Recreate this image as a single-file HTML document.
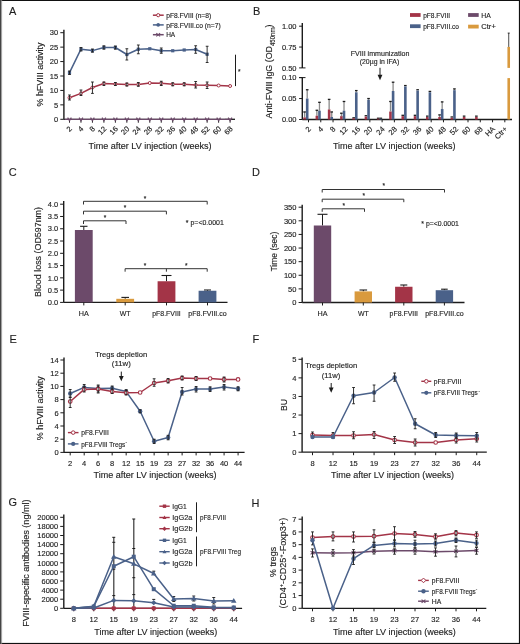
<!DOCTYPE html>
<html><head><meta charset="utf-8"><style>
html,body{margin:0;padding:0;background:#fff;}
svg{display:block;font-family:"Liberation Sans", sans-serif;will-change:transform;}
text{stroke:#1e1e1e;stroke-width:0.14px;}
</style></head><body>
<svg width="520" height="644" viewBox="0 0 520 644">
<rect x="0" y="0" width="520" height="644" fill="#ffffff"/>
<text transform="translate(9 15.45) scale(0.93 1)" font-size="11.8" fill="#1e1e1e" stroke-width="0">A</text>
<line x1="63.9" y1="29.8" x2="63.9" y2="119.3" stroke="#1c1c1c" stroke-width="1.4" />
<line x1="60.3" y1="119.3" x2="63.9" y2="119.3" stroke="#1c1c1c" stroke-width="1" />
<text x="58.2" y="122" font-size="7.5" text-anchor="end" fill="#1e1e1e" >0</text>
<line x1="60.3" y1="104.87" x2="63.9" y2="104.87" stroke="#1c1c1c" stroke-width="1" />
<text x="58.2" y="107.57" font-size="7.5" text-anchor="end" fill="#1e1e1e" >5</text>
<line x1="60.3" y1="90.43" x2="63.9" y2="90.43" stroke="#1c1c1c" stroke-width="1" />
<text x="58.2" y="93.13" font-size="7.5" text-anchor="end" fill="#1e1e1e" >10</text>
<line x1="60.3" y1="76" x2="63.9" y2="76" stroke="#1c1c1c" stroke-width="1" />
<text x="58.2" y="78.7" font-size="7.5" text-anchor="end" fill="#1e1e1e" >15</text>
<line x1="60.3" y1="61.57" x2="63.9" y2="61.57" stroke="#1c1c1c" stroke-width="1" />
<text x="58.2" y="64.27" font-size="7.5" text-anchor="end" fill="#1e1e1e" >20</text>
<line x1="60.3" y1="47.13" x2="63.9" y2="47.13" stroke="#1c1c1c" stroke-width="1" />
<text x="58.2" y="49.83" font-size="7.5" text-anchor="end" fill="#1e1e1e" >25</text>
<line x1="60.3" y1="32.7" x2="63.9" y2="32.7" stroke="#1c1c1c" stroke-width="1" />
<text x="58.2" y="35.4" font-size="7.5" text-anchor="end" fill="#1e1e1e" >30</text>
<line x1="225" y1="119.3" x2="235" y2="119.3" stroke="#1c1c1c" stroke-width="1.3" />
<text x="72.5" y="129.3" font-size="7.5" text-anchor="end" fill="#1e1e1e" transform="rotate(-45 72.5 129.3)" >2</text>
<text x="83.97" y="129.3" font-size="7.5" text-anchor="end" fill="#1e1e1e" transform="rotate(-45 83.97 129.3)" >4</text>
<text x="95.44" y="129.3" font-size="7.5" text-anchor="end" fill="#1e1e1e" transform="rotate(-45 95.44 129.3)" >8</text>
<text x="106.91" y="129.3" font-size="7.5" text-anchor="end" fill="#1e1e1e" transform="rotate(-45 106.91 129.3)" >12</text>
<text x="118.38" y="129.3" font-size="7.5" text-anchor="end" fill="#1e1e1e" transform="rotate(-45 118.38 129.3)" >16</text>
<text x="129.85" y="129.3" font-size="7.5" text-anchor="end" fill="#1e1e1e" transform="rotate(-45 129.85 129.3)" >20</text>
<text x="141.32" y="129.3" font-size="7.5" text-anchor="end" fill="#1e1e1e" transform="rotate(-45 141.32 129.3)" >24</text>
<text x="152.79" y="129.3" font-size="7.5" text-anchor="end" fill="#1e1e1e" transform="rotate(-45 152.79 129.3)" >28</text>
<text x="164.26" y="129.3" font-size="7.5" text-anchor="end" fill="#1e1e1e" transform="rotate(-45 164.26 129.3)" >32</text>
<text x="175.73" y="129.3" font-size="7.5" text-anchor="end" fill="#1e1e1e" transform="rotate(-45 175.73 129.3)" >36</text>
<text x="187.2" y="129.3" font-size="7.5" text-anchor="end" fill="#1e1e1e" transform="rotate(-45 187.2 129.3)" >40</text>
<text x="198.67" y="129.3" font-size="7.5" text-anchor="end" fill="#1e1e1e" transform="rotate(-45 198.67 129.3)" >48</text>
<text x="210.14" y="129.3" font-size="7.5" text-anchor="end" fill="#1e1e1e" transform="rotate(-45 210.14 129.3)" >52</text>
<text x="221.61" y="129.3" font-size="7.5" text-anchor="end" fill="#1e1e1e" transform="rotate(-45 221.61 129.3)" >60</text>
<text x="233.08" y="129.3" font-size="7.5" text-anchor="end" fill="#1e1e1e" transform="rotate(-45 233.08 129.3)" >68</text>
<text x="150" y="148.8" font-size="9.5" text-anchor="middle" fill="#1e1e1e" textLength="123" lengthAdjust="spacingAndGlyphs" >Time after LV injection (weeks)</text>
<text x="42.9" y="74.5" font-size="9.5" text-anchor="middle" fill="#1e1e1e" textLength="64" lengthAdjust="spacingAndGlyphs" transform="rotate(-90 42.9 74.5)" >% hFVIII activity</text>
<polyline points="69.5,72.7 80.97,49.2 92.44,50.6 103.91,47.5 115.38,47.5 126.85,54.5 138.32,49.25 149.79,48.75 161.26,50.75 172.73,50.75 184.2,50 195.67,49.5 207.14,54.25" stroke="#4a6189" stroke-width="1.5" fill="none" stroke-linejoin="round" />
<rect x="67.9" y="71.1" width="3.2" height="3.2" fill="#4a6189" stroke="none" stroke-width="0"/>
<rect x="79.37" y="47.6" width="3.2" height="3.2" fill="#4a6189" stroke="none" stroke-width="0"/>
<rect x="90.84" y="49" width="3.2" height="3.2" fill="#4a6189" stroke="none" stroke-width="0"/>
<rect x="102.31" y="45.9" width="3.2" height="3.2" fill="#4a6189" stroke="none" stroke-width="0"/>
<rect x="113.78" y="45.9" width="3.2" height="3.2" fill="#4a6189" stroke="none" stroke-width="0"/>
<rect x="125.25" y="52.9" width="3.2" height="3.2" fill="#4a6189" stroke="none" stroke-width="0"/>
<rect x="136.72" y="47.65" width="3.2" height="3.2" fill="#4a6189" stroke="none" stroke-width="0"/>
<rect x="148.19" y="47.15" width="3.2" height="3.2" fill="#4a6189" stroke="none" stroke-width="0"/>
<rect x="159.66" y="49.15" width="3.2" height="3.2" fill="#4a6189" stroke="none" stroke-width="0"/>
<rect x="171.13" y="49.15" width="3.2" height="3.2" fill="#4a6189" stroke="none" stroke-width="0"/>
<rect x="182.6" y="48.4" width="3.2" height="3.2" fill="#4a6189" stroke="none" stroke-width="0"/>
<rect x="194.07" y="47.9" width="3.2" height="3.2" fill="#4a6189" stroke="none" stroke-width="0"/>
<rect x="205.54" y="52.65" width="3.2" height="3.2" fill="#4a6189" stroke="none" stroke-width="0"/>
<line x1="126.85" y1="48.75" x2="126.85" y2="60" stroke="#1c1c1c" stroke-width="0.9" />
<line x1="125.45" y1="48.75" x2="128.25" y2="48.75" stroke="#1c1c1c" stroke-width="0.9" />
<line x1="125.45" y1="60" x2="128.25" y2="60" stroke="#1c1c1c" stroke-width="0.9" />
<line x1="138.32" y1="45" x2="138.32" y2="53.75" stroke="#1c1c1c" stroke-width="0.9" />
<line x1="136.92" y1="45" x2="139.72" y2="45" stroke="#1c1c1c" stroke-width="0.9" />
<line x1="136.92" y1="53.75" x2="139.72" y2="53.75" stroke="#1c1c1c" stroke-width="0.9" />
<line x1="161.26" y1="48" x2="161.26" y2="53.25" stroke="#1c1c1c" stroke-width="0.9" />
<line x1="159.86" y1="48" x2="162.66" y2="48" stroke="#1c1c1c" stroke-width="0.9" />
<line x1="159.86" y1="53.25" x2="162.66" y2="53.25" stroke="#1c1c1c" stroke-width="0.9" />
<line x1="195.67" y1="45.75" x2="195.67" y2="53.25" stroke="#1c1c1c" stroke-width="0.9" />
<line x1="194.27" y1="45.75" x2="197.07" y2="45.75" stroke="#1c1c1c" stroke-width="0.9" />
<line x1="194.27" y1="53.25" x2="197.07" y2="53.25" stroke="#1c1c1c" stroke-width="0.9" />
<line x1="207.14" y1="46.25" x2="207.14" y2="62.5" stroke="#1c1c1c" stroke-width="0.9" />
<line x1="205.74" y1="46.25" x2="208.54" y2="46.25" stroke="#1c1c1c" stroke-width="0.9" />
<line x1="205.74" y1="62.5" x2="208.54" y2="62.5" stroke="#1c1c1c" stroke-width="0.9" />
<line x1="69.5" y1="71" x2="69.5" y2="74.5" stroke="#1c1c1c" stroke-width="0.9" />
<line x1="68.1" y1="71" x2="70.9" y2="71" stroke="#1c1c1c" stroke-width="0.9" />
<line x1="68.1" y1="74.5" x2="70.9" y2="74.5" stroke="#1c1c1c" stroke-width="0.9" />
<line x1="80.97" y1="47.5" x2="80.97" y2="51" stroke="#1c1c1c" stroke-width="0.9" />
<line x1="79.57" y1="47.5" x2="82.37" y2="47.5" stroke="#1c1c1c" stroke-width="0.9" />
<line x1="79.57" y1="51" x2="82.37" y2="51" stroke="#1c1c1c" stroke-width="0.9" />
<line x1="92.44" y1="49" x2="92.44" y2="52.2" stroke="#1c1c1c" stroke-width="0.9" />
<line x1="91.04" y1="49" x2="93.84" y2="49" stroke="#1c1c1c" stroke-width="0.9" />
<line x1="91.04" y1="52.2" x2="93.84" y2="52.2" stroke="#1c1c1c" stroke-width="0.9" />
<line x1="103.91" y1="45.8" x2="103.91" y2="49.2" stroke="#1c1c1c" stroke-width="0.9" />
<line x1="102.51" y1="45.8" x2="105.31" y2="45.8" stroke="#1c1c1c" stroke-width="0.9" />
<line x1="102.51" y1="49.2" x2="105.31" y2="49.2" stroke="#1c1c1c" stroke-width="0.9" />
<line x1="115.38" y1="46" x2="115.38" y2="49.2" stroke="#1c1c1c" stroke-width="0.9" />
<line x1="113.98" y1="46" x2="116.78" y2="46" stroke="#1c1c1c" stroke-width="0.9" />
<line x1="113.98" y1="49.2" x2="116.78" y2="49.2" stroke="#1c1c1c" stroke-width="0.9" />
<polyline points="69.5,97.7 80.97,93.4 92.44,87.5 103.91,83.5 115.38,84 126.85,84.5 138.32,84.5 149.79,83 161.26,83.25 172.73,84.25 184.2,84.25 195.67,85 207.14,85.25 218.61,85.5 230.08,86" stroke="#a33447" stroke-width="1.5" fill="none" stroke-linejoin="round" />
<circle cx="69.5" cy="97.7" r="1.5" fill="#fff" stroke="#a33447" stroke-width="1"/>
<circle cx="80.97" cy="93.4" r="1.5" fill="#fff" stroke="#a33447" stroke-width="1"/>
<circle cx="92.44" cy="87.5" r="1.5" fill="#fff" stroke="#a33447" stroke-width="1"/>
<circle cx="103.91" cy="83.5" r="1.5" fill="#fff" stroke="#a33447" stroke-width="1"/>
<circle cx="115.38" cy="84" r="1.5" fill="#fff" stroke="#a33447" stroke-width="1"/>
<circle cx="126.85" cy="84.5" r="1.5" fill="#fff" stroke="#a33447" stroke-width="1"/>
<circle cx="138.32" cy="84.5" r="1.5" fill="#fff" stroke="#a33447" stroke-width="1"/>
<circle cx="149.79" cy="83" r="1.5" fill="#fff" stroke="#a33447" stroke-width="1"/>
<circle cx="161.26" cy="83.25" r="1.5" fill="#fff" stroke="#a33447" stroke-width="1"/>
<circle cx="172.73" cy="84.25" r="1.5" fill="#fff" stroke="#a33447" stroke-width="1"/>
<circle cx="184.2" cy="84.25" r="1.5" fill="#fff" stroke="#a33447" stroke-width="1"/>
<circle cx="195.67" cy="85" r="1.5" fill="#fff" stroke="#a33447" stroke-width="1"/>
<circle cx="207.14" cy="85.25" r="1.5" fill="#fff" stroke="#a33447" stroke-width="1"/>
<circle cx="218.61" cy="85.5" r="1.5" fill="#fff" stroke="#a33447" stroke-width="1"/>
<circle cx="230.08" cy="86" r="1.5" fill="#fff" stroke="#a33447" stroke-width="1"/>
<line x1="69.5" y1="95" x2="69.5" y2="100" stroke="#1c1c1c" stroke-width="0.9" />
<line x1="68.1" y1="95" x2="70.9" y2="95" stroke="#1c1c1c" stroke-width="0.9" />
<line x1="68.1" y1="100" x2="70.9" y2="100" stroke="#1c1c1c" stroke-width="0.9" />
<line x1="80.97" y1="90" x2="80.97" y2="95.5" stroke="#1c1c1c" stroke-width="0.9" />
<line x1="79.57" y1="90" x2="82.37" y2="90" stroke="#1c1c1c" stroke-width="0.9" />
<line x1="79.57" y1="95.5" x2="82.37" y2="95.5" stroke="#1c1c1c" stroke-width="0.9" />
<line x1="92.44" y1="82" x2="92.44" y2="93.4" stroke="#1c1c1c" stroke-width="0.9" />
<line x1="91.04" y1="82" x2="93.84" y2="82" stroke="#1c1c1c" stroke-width="0.9" />
<line x1="91.04" y1="93.4" x2="93.84" y2="93.4" stroke="#1c1c1c" stroke-width="0.9" />
<line x1="103.91" y1="82" x2="103.91" y2="85.5" stroke="#1c1c1c" stroke-width="0.9" />
<line x1="102.51" y1="82" x2="105.31" y2="82" stroke="#1c1c1c" stroke-width="0.9" />
<line x1="102.51" y1="85.5" x2="105.31" y2="85.5" stroke="#1c1c1c" stroke-width="0.9" />
<line x1="138.32" y1="82.5" x2="138.32" y2="86.25" stroke="#1c1c1c" stroke-width="0.9" />
<line x1="136.92" y1="82.5" x2="139.72" y2="82.5" stroke="#1c1c1c" stroke-width="0.9" />
<line x1="136.92" y1="86.25" x2="139.72" y2="86.25" stroke="#1c1c1c" stroke-width="0.9" />
<line x1="161.26" y1="81.25" x2="161.26" y2="85.5" stroke="#1c1c1c" stroke-width="0.9" />
<line x1="159.86" y1="81.25" x2="162.66" y2="81.25" stroke="#1c1c1c" stroke-width="0.9" />
<line x1="159.86" y1="85.5" x2="162.66" y2="85.5" stroke="#1c1c1c" stroke-width="0.9" />
<line x1="195.67" y1="81.5" x2="195.67" y2="88" stroke="#1c1c1c" stroke-width="0.9" />
<line x1="194.27" y1="81.5" x2="197.07" y2="81.5" stroke="#1c1c1c" stroke-width="0.9" />
<line x1="194.27" y1="88" x2="197.07" y2="88" stroke="#1c1c1c" stroke-width="0.9" />
<line x1="207.14" y1="82" x2="207.14" y2="88.5" stroke="#1c1c1c" stroke-width="0.9" />
<line x1="205.74" y1="82" x2="208.54" y2="82" stroke="#1c1c1c" stroke-width="0.9" />
<line x1="205.74" y1="88.5" x2="208.54" y2="88.5" stroke="#1c1c1c" stroke-width="0.9" />
<line x1="115.38" y1="82.5" x2="115.38" y2="85.5" stroke="#1c1c1c" stroke-width="0.9" />
<line x1="113.98" y1="82.5" x2="116.78" y2="82.5" stroke="#1c1c1c" stroke-width="0.9" />
<line x1="113.98" y1="85.5" x2="116.78" y2="85.5" stroke="#1c1c1c" stroke-width="0.9" />
<line x1="126.85" y1="83" x2="126.85" y2="86" stroke="#1c1c1c" stroke-width="0.9" />
<line x1="125.45" y1="83" x2="128.25" y2="83" stroke="#1c1c1c" stroke-width="0.9" />
<line x1="125.45" y1="86" x2="128.25" y2="86" stroke="#1c1c1c" stroke-width="0.9" />
<line x1="172.73" y1="82.8" x2="172.73" y2="85.8" stroke="#1c1c1c" stroke-width="0.9" />
<line x1="171.33" y1="82.8" x2="174.13" y2="82.8" stroke="#1c1c1c" stroke-width="0.9" />
<line x1="171.33" y1="85.8" x2="174.13" y2="85.8" stroke="#1c1c1c" stroke-width="0.9" />
<line x1="184.2" y1="82.8" x2="184.2" y2="85.8" stroke="#1c1c1c" stroke-width="0.9" />
<line x1="182.8" y1="82.8" x2="185.6" y2="82.8" stroke="#1c1c1c" stroke-width="0.9" />
<line x1="182.8" y1="85.8" x2="185.6" y2="85.8" stroke="#1c1c1c" stroke-width="0.9" />
<line x1="63.9" y1="119.3" x2="225" y2="119.3" stroke="#1c1c1c" stroke-width="1.2" />
<line x1="69.5" y1="119.3" x2="69.5" y2="122.7" stroke="#1c1c1c" stroke-width="1" />
<line x1="80.97" y1="119.3" x2="80.97" y2="122.7" stroke="#1c1c1c" stroke-width="1" />
<line x1="92.44" y1="119.3" x2="92.44" y2="122.7" stroke="#1c1c1c" stroke-width="1" />
<line x1="103.91" y1="119.3" x2="103.91" y2="122.7" stroke="#1c1c1c" stroke-width="1" />
<line x1="115.38" y1="119.3" x2="115.38" y2="122.7" stroke="#1c1c1c" stroke-width="1" />
<line x1="126.85" y1="119.3" x2="126.85" y2="122.7" stroke="#1c1c1c" stroke-width="1" />
<line x1="138.32" y1="119.3" x2="138.32" y2="122.7" stroke="#1c1c1c" stroke-width="1" />
<line x1="149.79" y1="119.3" x2="149.79" y2="122.7" stroke="#1c1c1c" stroke-width="1" />
<line x1="161.26" y1="119.3" x2="161.26" y2="122.7" stroke="#1c1c1c" stroke-width="1" />
<line x1="172.73" y1="119.3" x2="172.73" y2="122.7" stroke="#1c1c1c" stroke-width="1" />
<line x1="184.2" y1="119.3" x2="184.2" y2="122.7" stroke="#1c1c1c" stroke-width="1" />
<line x1="195.67" y1="119.3" x2="195.67" y2="122.7" stroke="#1c1c1c" stroke-width="1" />
<line x1="207.14" y1="119.3" x2="207.14" y2="122.7" stroke="#1c1c1c" stroke-width="1" />
<line x1="218.61" y1="119.3" x2="218.61" y2="122.7" stroke="#1c1c1c" stroke-width="1" />
<line x1="230.08" y1="119.3" x2="230.08" y2="122.7" stroke="#1c1c1c" stroke-width="1" />
<line x1="64.6" y1="119.3" x2="230.5" y2="119.3" stroke="#6c4a6a" stroke-width="1.3" />
<path d="M67.6,117.6 L69.5,120.6 L71.4,117.6" stroke="#6c4a6a" stroke-width="1.3" fill="none"/>
<path d="M79.07,117.6 L80.97,120.6 L82.87,117.6" stroke="#6c4a6a" stroke-width="1.3" fill="none"/>
<path d="M90.54,117.6 L92.44,120.6 L94.34,117.6" stroke="#6c4a6a" stroke-width="1.3" fill="none"/>
<path d="M102.01,117.6 L103.91,120.6 L105.81,117.6" stroke="#6c4a6a" stroke-width="1.3" fill="none"/>
<path d="M113.48,117.6 L115.38,120.6 L117.28,117.6" stroke="#6c4a6a" stroke-width="1.3" fill="none"/>
<path d="M124.95,117.6 L126.85,120.6 L128.75,117.6" stroke="#6c4a6a" stroke-width="1.3" fill="none"/>
<path d="M136.42,117.6 L138.32,120.6 L140.22,117.6" stroke="#6c4a6a" stroke-width="1.3" fill="none"/>
<path d="M147.89,117.6 L149.79,120.6 L151.69,117.6" stroke="#6c4a6a" stroke-width="1.3" fill="none"/>
<path d="M159.36,117.6 L161.26,120.6 L163.16,117.6" stroke="#6c4a6a" stroke-width="1.3" fill="none"/>
<path d="M170.83,117.6 L172.73,120.6 L174.63,117.6" stroke="#6c4a6a" stroke-width="1.3" fill="none"/>
<path d="M182.3,117.6 L184.2,120.6 L186.1,117.6" stroke="#6c4a6a" stroke-width="1.3" fill="none"/>
<path d="M193.77,117.6 L195.67,120.6 L197.57,117.6" stroke="#6c4a6a" stroke-width="1.3" fill="none"/>
<path d="M205.24,117.6 L207.14,120.6 L209.04,117.6" stroke="#6c4a6a" stroke-width="1.3" fill="none"/>
<path d="M216.71,117.6 L218.61,120.6 L220.51,117.6" stroke="#6c4a6a" stroke-width="1.3" fill="none"/>
<path d="M228.18,117.6 L230.08,120.6 L231.98,117.6" stroke="#6c4a6a" stroke-width="1.3" fill="none"/>
<line x1="235.5" y1="54.7" x2="235.5" y2="86.1" stroke="#1c1c1c" stroke-width="1" />
<text x="239.2" y="73.6" font-size="6.5" text-anchor="middle" fill="#1e1e1e" >*</text>
<line x1="152.9" y1="15.2" x2="163.7" y2="15.2" stroke="#a33447" stroke-width="1.5" />
<circle cx="158.2" cy="15.2" r="1.6" fill="#fff" stroke="#a33447" stroke-width="1"/>
<text x="166.2" y="17.8" font-size="7.2" text-anchor="start" fill="#1e1e1e" textLength="45" lengthAdjust="spacingAndGlyphs" >pF8.FVIII (n=8)</text>
<line x1="152.9" y1="24.9" x2="163.7" y2="24.9" stroke="#4a6189" stroke-width="1.5" />
<circle cx="158.2" cy="24.9" r="1.8" fill="#4a6189"/>
<text x="166.2" y="27.5" font-size="7.2" text-anchor="start" fill="#1e1e1e" textLength="54.5" lengthAdjust="spacingAndGlyphs" >pF8.FVIII.co (n=7)</text>
<line x1="152.9" y1="34.7" x2="163.7" y2="34.7" stroke="#6c4a6a" stroke-width="1.5" />
<path d="M156.3,33.1 L160.1,36.3 M156.3,36.3 L160.1,33.1" stroke="#6c4a6a" stroke-width="1.1" fill="none"/>
<text x="166.2" y="37.3" font-size="7.2" text-anchor="start" fill="#1e1e1e" textLength="9" lengthAdjust="spacingAndGlyphs" >HA</text>
<text transform="translate(253 15.35) scale(0.93 1)" font-size="11.8" fill="#1e1e1e" stroke-width="0">B</text>
<line x1="302.3" y1="23" x2="302.3" y2="67.9" stroke="#1c1c1c" stroke-width="1.4" />
<line x1="302.3" y1="67.9" x2="305.5" y2="67.9" stroke="#1c1c1c" stroke-width="1" />
<line x1="299.1" y1="67.9" x2="302.3" y2="67.9" stroke="#1c1c1c" stroke-width="1" />
<text x="296.5" y="70.6" font-size="7.5" text-anchor="end" fill="#1e1e1e" >0.50</text>
<line x1="299.1" y1="47.05" x2="302.3" y2="47.05" stroke="#1c1c1c" stroke-width="1" />
<text x="296.5" y="49.75" font-size="7.5" text-anchor="end" fill="#1e1e1e" >0.75</text>
<line x1="299.1" y1="26.2" x2="302.3" y2="26.2" stroke="#1c1c1c" stroke-width="1" />
<text x="296.5" y="28.9" font-size="7.5" text-anchor="end" fill="#1e1e1e" >1.00</text>
<line x1="302.3" y1="77.6" x2="302.3" y2="119.5" stroke="#1c1c1c" stroke-width="1.4" />
<line x1="299.1" y1="77.6" x2="305.5" y2="77.6" stroke="#1c1c1c" stroke-width="1" />
<line x1="299.1" y1="119.5" x2="302.3" y2="119.5" stroke="#1c1c1c" stroke-width="1" />
<text x="296.5" y="122.2" font-size="7.5" text-anchor="end" fill="#1e1e1e" >0.00</text>
<line x1="299.1" y1="98.55" x2="302.3" y2="98.55" stroke="#1c1c1c" stroke-width="1" />
<text x="296.5" y="101.25" font-size="7.5" text-anchor="end" fill="#1e1e1e" >0.05</text>
<line x1="299.1" y1="77.6" x2="302.3" y2="77.6" stroke="#1c1c1c" stroke-width="1" />
<text x="296.5" y="80.3" font-size="7.5" text-anchor="end" fill="#1e1e1e" >0.10</text>
<line x1="302.3" y1="119.5" x2="512" y2="119.5" stroke="#1c1c1c" stroke-width="1.3" />
<line x1="308.5" y1="119.5" x2="308.5" y2="122.3" stroke="#1c1c1c" stroke-width="1" />
<text x="311.5" y="129.5" font-size="7.5" text-anchor="end" fill="#1e1e1e" transform="rotate(-45 311.5 129.5)" >2</text>
<line x1="320.77" y1="119.5" x2="320.77" y2="122.3" stroke="#1c1c1c" stroke-width="1" />
<text x="323.77" y="129.5" font-size="7.5" text-anchor="end" fill="#1e1e1e" transform="rotate(-45 323.77 129.5)" >4</text>
<line x1="333.04" y1="119.5" x2="333.04" y2="122.3" stroke="#1c1c1c" stroke-width="1" />
<text x="336.04" y="129.5" font-size="7.5" text-anchor="end" fill="#1e1e1e" transform="rotate(-45 336.04 129.5)" >8</text>
<line x1="345.31" y1="119.5" x2="345.31" y2="122.3" stroke="#1c1c1c" stroke-width="1" />
<text x="348.31" y="129.5" font-size="7.5" text-anchor="end" fill="#1e1e1e" transform="rotate(-45 348.31 129.5)" >12</text>
<line x1="357.58" y1="119.5" x2="357.58" y2="122.3" stroke="#1c1c1c" stroke-width="1" />
<text x="360.58" y="129.5" font-size="7.5" text-anchor="end" fill="#1e1e1e" transform="rotate(-45 360.58 129.5)" >16</text>
<line x1="369.85" y1="119.5" x2="369.85" y2="122.3" stroke="#1c1c1c" stroke-width="1" />
<text x="372.85" y="129.5" font-size="7.5" text-anchor="end" fill="#1e1e1e" transform="rotate(-45 372.85 129.5)" >20</text>
<line x1="382.12" y1="119.5" x2="382.12" y2="122.3" stroke="#1c1c1c" stroke-width="1" />
<text x="385.12" y="129.5" font-size="7.5" text-anchor="end" fill="#1e1e1e" transform="rotate(-45 385.12 129.5)" >24</text>
<line x1="394.39" y1="119.5" x2="394.39" y2="122.3" stroke="#1c1c1c" stroke-width="1" />
<text x="397.39" y="129.5" font-size="7.5" text-anchor="end" fill="#1e1e1e" transform="rotate(-45 397.39 129.5)" >28</text>
<line x1="406.66" y1="119.5" x2="406.66" y2="122.3" stroke="#1c1c1c" stroke-width="1" />
<text x="409.66" y="129.5" font-size="7.5" text-anchor="end" fill="#1e1e1e" transform="rotate(-45 409.66 129.5)" >32</text>
<line x1="418.93" y1="119.5" x2="418.93" y2="122.3" stroke="#1c1c1c" stroke-width="1" />
<text x="421.93" y="129.5" font-size="7.5" text-anchor="end" fill="#1e1e1e" transform="rotate(-45 421.93 129.5)" >36</text>
<line x1="431.2" y1="119.5" x2="431.2" y2="122.3" stroke="#1c1c1c" stroke-width="1" />
<text x="434.2" y="129.5" font-size="7.5" text-anchor="end" fill="#1e1e1e" transform="rotate(-45 434.2 129.5)" >40</text>
<line x1="443.47" y1="119.5" x2="443.47" y2="122.3" stroke="#1c1c1c" stroke-width="1" />
<text x="446.47" y="129.5" font-size="7.5" text-anchor="end" fill="#1e1e1e" transform="rotate(-45 446.47 129.5)" >48</text>
<line x1="455.74" y1="119.5" x2="455.74" y2="122.3" stroke="#1c1c1c" stroke-width="1" />
<text x="458.74" y="129.5" font-size="7.5" text-anchor="end" fill="#1e1e1e" transform="rotate(-45 458.74 129.5)" >52</text>
<line x1="468.01" y1="119.5" x2="468.01" y2="122.3" stroke="#1c1c1c" stroke-width="1" />
<text x="471.01" y="129.5" font-size="7.5" text-anchor="end" fill="#1e1e1e" transform="rotate(-45 471.01 129.5)" >60</text>
<line x1="480.28" y1="119.5" x2="480.28" y2="122.3" stroke="#1c1c1c" stroke-width="1" />
<text x="483.28" y="129.5" font-size="7.5" text-anchor="end" fill="#1e1e1e" transform="rotate(-45 483.28 129.5)" >68</text>
<line x1="492.55" y1="119.5" x2="492.55" y2="122.3" stroke="#1c1c1c" stroke-width="1" />
<text x="495.55" y="129.5" font-size="7.5" text-anchor="end" fill="#1e1e1e" transform="rotate(-45 495.55 129.5)" >HA</text>
<line x1="504.82" y1="119.5" x2="504.82" y2="122.3" stroke="#1c1c1c" stroke-width="1" />
<text x="507.82" y="129.5" font-size="7.5" text-anchor="end" fill="#1e1e1e" transform="rotate(-45 507.82 129.5)" >Ctr+</text>
<text x="394.2" y="148.5" font-size="9.5" text-anchor="middle" fill="#1e1e1e" textLength="122.5" lengthAdjust="spacingAndGlyphs" >Time after LV injection (weeks)</text>
<text transform="translate(272.3 71.5) rotate(-90)" font-size="9.5" fill="#1e1e1e" text-anchor="middle" textLength="94" lengthAdjust="spacingAndGlyphs">Anti-FVIII IgG (OD<tspan font-size="6.5" dy="2.2">450nm</tspan><tspan dy="-2.2">)</tspan></text>
<line x1="304.6" y1="111.96" x2="304.6" y2="117.41" stroke="#8a8a8a" stroke-width="1.3" />
<line x1="303.3" y1="111.96" x2="305.9" y2="111.96" stroke="#1c1c1c" stroke-width="1.3" />
<rect x="303.3" y="117.41" width="2.6" height="2.09" fill="#a33447" stroke="none" stroke-width="0"/>
<line x1="307.2" y1="89.75" x2="307.2" y2="98.55" stroke="#8a8a8a" stroke-width="1.3" />
<line x1="305.9" y1="89.75" x2="308.5" y2="89.75" stroke="#1c1c1c" stroke-width="1.3" />
<rect x="305.9" y="98.55" width="2.6" height="20.95" fill="#4a6189" stroke="none" stroke-width="0"/>
<line x1="316.87" y1="110.28" x2="316.87" y2="115.73" stroke="#8a8a8a" stroke-width="1.3" />
<line x1="315.57" y1="110.28" x2="318.17" y2="110.28" stroke="#1c1c1c" stroke-width="1.3" />
<rect x="315.57" y="115.73" width="2.6" height="3.77" fill="#a33447" stroke="none" stroke-width="0"/>
<line x1="319.47" y1="102.32" x2="319.47" y2="110.7" stroke="#8a8a8a" stroke-width="1.3" />
<line x1="318.17" y1="102.32" x2="320.77" y2="102.32" stroke="#1c1c1c" stroke-width="1.3" />
<rect x="318.17" y="110.7" width="2.6" height="8.8" fill="#4a6189" stroke="none" stroke-width="0"/>
<line x1="329.14" y1="99.39" x2="329.14" y2="109.44" stroke="#8a8a8a" stroke-width="1.3" />
<line x1="327.84" y1="99.39" x2="330.44" y2="99.39" stroke="#1c1c1c" stroke-width="1.3" />
<rect x="327.84" y="109.44" width="2.6" height="10.06" fill="#a33447" stroke="none" stroke-width="0"/>
<line x1="331.74" y1="111.96" x2="331.74" y2="116.99" stroke="#8a8a8a" stroke-width="1.3" />
<line x1="330.44" y1="111.96" x2="333.04" y2="111.96" stroke="#1c1c1c" stroke-width="1.3" />
<rect x="330.44" y="116.99" width="2.6" height="2.51" fill="#4a6189" stroke="none" stroke-width="0"/>
<line x1="341.41" y1="113.22" x2="341.41" y2="116.15" stroke="#8a8a8a" stroke-width="1.3" />
<line x1="340.11" y1="113.22" x2="342.71" y2="113.22" stroke="#1c1c1c" stroke-width="1.3" />
<rect x="340.11" y="116.15" width="2.6" height="3.35" fill="#a33447" stroke="none" stroke-width="0"/>
<line x1="344.01" y1="101.48" x2="344.01" y2="110.7" stroke="#8a8a8a" stroke-width="1.3" />
<line x1="342.71" y1="101.48" x2="345.31" y2="101.48" stroke="#1c1c1c" stroke-width="1.3" />
<rect x="342.71" y="110.7" width="2.6" height="8.8" fill="#4a6189" stroke="none" stroke-width="0"/>
<line x1="352.38" y1="117.82" x2="354.98" y2="117.82" stroke="#1c1c1c" stroke-width="1.3" />
<rect x="352.38" y="118.24" width="2.6" height="1.26" fill="#a33447" stroke="none" stroke-width="0"/>
<line x1="356.28" y1="90.59" x2="356.28" y2="92.27" stroke="#8a8a8a" stroke-width="1.3" />
<line x1="354.98" y1="90.59" x2="357.58" y2="90.59" stroke="#1c1c1c" stroke-width="1.3" />
<rect x="354.98" y="92.27" width="2.6" height="27.23" fill="#4a6189" stroke="none" stroke-width="0"/>
<line x1="364.65" y1="115.73" x2="367.25" y2="115.73" stroke="#1c1c1c" stroke-width="1.3" />
<rect x="364.65" y="116.57" width="2.6" height="2.93" fill="#a33447" stroke="none" stroke-width="0"/>
<line x1="368.55" y1="98.55" x2="368.55" y2="99.81" stroke="#8a8a8a" stroke-width="1.3" />
<line x1="367.25" y1="98.55" x2="369.85" y2="98.55" stroke="#1c1c1c" stroke-width="1.3" />
<rect x="367.25" y="99.81" width="2.6" height="19.69" fill="#4a6189" stroke="none" stroke-width="0"/>
<line x1="376.92" y1="118.24" x2="379.52" y2="118.24" stroke="#1c1c1c" stroke-width="1.3" />
<rect x="376.92" y="118.66" width="2.6" height="0.84" fill="#a33447" stroke="none" stroke-width="0"/>
<line x1="379.52" y1="118.24" x2="382.12" y2="118.24" stroke="#1c1c1c" stroke-width="1.3" />
<rect x="379.52" y="118.66" width="2.6" height="0.84" fill="#4a6189" stroke="none" stroke-width="0"/>
<line x1="390.49" y1="101.48" x2="390.49" y2="111.54" stroke="#8a8a8a" stroke-width="1.3" />
<line x1="389.19" y1="101.48" x2="391.79" y2="101.48" stroke="#1c1c1c" stroke-width="1.3" />
<rect x="389.19" y="111.54" width="2.6" height="7.96" fill="#a33447" stroke="none" stroke-width="0"/>
<line x1="393.09" y1="82.21" x2="393.09" y2="91.01" stroke="#8a8a8a" stroke-width="1.3" />
<line x1="391.79" y1="82.21" x2="394.39" y2="82.21" stroke="#1c1c1c" stroke-width="1.3" />
<rect x="391.79" y="91.01" width="2.6" height="28.49" fill="#4a6189" stroke="none" stroke-width="0"/>
<line x1="401.46" y1="115.31" x2="404.06" y2="115.31" stroke="#1c1c1c" stroke-width="1.3" />
<rect x="401.46" y="116.15" width="2.6" height="3.35" fill="#a33447" stroke="none" stroke-width="0"/>
<line x1="404.06" y1="85.56" x2="406.66" y2="85.56" stroke="#1c1c1c" stroke-width="1.3" />
<rect x="404.06" y="86.4" width="2.6" height="33.1" fill="#4a6189" stroke="none" stroke-width="0"/>
<line x1="413.73" y1="115.31" x2="416.33" y2="115.31" stroke="#1c1c1c" stroke-width="1.3" />
<rect x="413.73" y="116.15" width="2.6" height="3.35" fill="#a33447" stroke="none" stroke-width="0"/>
<line x1="416.33" y1="89.75" x2="418.93" y2="89.75" stroke="#1c1c1c" stroke-width="1.3" />
<rect x="416.33" y="90.59" width="2.6" height="28.91" fill="#4a6189" stroke="none" stroke-width="0"/>
<line x1="426" y1="116.15" x2="428.6" y2="116.15" stroke="#1c1c1c" stroke-width="1.3" />
<rect x="426" y="116.99" width="2.6" height="2.51" fill="#a33447" stroke="none" stroke-width="0"/>
<line x1="428.6" y1="91.43" x2="431.2" y2="91.43" stroke="#1c1c1c" stroke-width="1.3" />
<rect x="428.6" y="92.27" width="2.6" height="27.23" fill="#4a6189" stroke="none" stroke-width="0"/>
<line x1="439.57" y1="114.89" x2="439.57" y2="116.99" stroke="#8a8a8a" stroke-width="1.3" />
<line x1="438.27" y1="114.89" x2="440.87" y2="114.89" stroke="#1c1c1c" stroke-width="1.3" />
<rect x="438.27" y="116.99" width="2.6" height="2.51" fill="#a33447" stroke="none" stroke-width="0"/>
<line x1="442.17" y1="101.9" x2="442.17" y2="109.03" stroke="#8a8a8a" stroke-width="1.3" />
<line x1="440.87" y1="101.9" x2="443.47" y2="101.9" stroke="#1c1c1c" stroke-width="1.3" />
<rect x="440.87" y="109.03" width="2.6" height="10.47" fill="#4a6189" stroke="none" stroke-width="0"/>
<line x1="450.54" y1="116.99" x2="453.14" y2="116.99" stroke="#1c1c1c" stroke-width="1.3" />
<rect x="450.54" y="117.82" width="2.6" height="1.68" fill="#a33447" stroke="none" stroke-width="0"/>
<line x1="454.44" y1="88.91" x2="454.44" y2="90.17" stroke="#8a8a8a" stroke-width="1.3" />
<line x1="453.14" y1="88.91" x2="455.74" y2="88.91" stroke="#1c1c1c" stroke-width="1.3" />
<rect x="453.14" y="90.17" width="2.6" height="29.33" fill="#4a6189" stroke="none" stroke-width="0"/>
<line x1="462.81" y1="116.15" x2="465.41" y2="116.15" stroke="#1c1c1c" stroke-width="1.3" />
<rect x="462.81" y="116.99" width="2.6" height="2.51" fill="#a33447" stroke="none" stroke-width="0"/>
<line x1="475.08" y1="116.15" x2="477.68" y2="116.15" stroke="#1c1c1c" stroke-width="1.3" />
<rect x="475.08" y="116.99" width="2.6" height="2.51" fill="#a33447" stroke="none" stroke-width="0"/>
<rect x="507.42" y="46.9" width="2.6" height="21" fill="#d99a3e" stroke="none" stroke-width="0"/>
<rect x="507.42" y="78.1" width="2.6" height="41.4" fill="#d99a3e" stroke="none" stroke-width="0"/>
<line x1="508.72" y1="33.1" x2="508.72" y2="46.9" stroke="#1c1c1c" stroke-width="0.8" />
<line x1="507.72" y1="33.1" x2="509.72" y2="33.1" stroke="#1c1c1c" stroke-width="0.9" />
<text x="380" y="55.8" font-size="7.4" text-anchor="middle" fill="#1e1e1e" textLength="58.7" lengthAdjust="spacingAndGlyphs" >FVIII immunization</text>
<text x="379.5" y="64.3" font-size="7.4" text-anchor="middle" fill="#1e1e1e" textLength="39.5" lengthAdjust="spacingAndGlyphs" >(20µg in IFA)</text>
<line x1="380" y1="67.8" x2="380" y2="76" stroke="#1c1c1c" stroke-width="1" />
<path d="M377.6,74.8 L382.4,74.8 L380,80.3 Z" fill="#1c1c1c"/>
<rect x="410" y="13.1" width="10.6" height="3.8" fill="#a33447" stroke="none" stroke-width="0"/>
<text x="423.2" y="17.5" font-size="7" text-anchor="start" fill="#1e1e1e" textLength="27" lengthAdjust="spacingAndGlyphs" >pF8.FVIII</text>
<rect x="410" y="24.3" width="10.6" height="3.8" fill="#4a6189" stroke="none" stroke-width="0"/>
<text x="423.2" y="28.7" font-size="7" text-anchor="start" fill="#1e1e1e" textLength="35.8" lengthAdjust="spacingAndGlyphs" >pF8.FVIII.co</text>
<rect x="468.1" y="13.1" width="10.6" height="3.8" fill="#6c4a6a" stroke="none" stroke-width="0"/>
<text x="481.3" y="17.5" font-size="7" text-anchor="start" fill="#1e1e1e" textLength="9.5" lengthAdjust="spacingAndGlyphs" >HA</text>
<rect x="468.1" y="24.7" width="10.6" height="3.8" fill="#d99a3e" stroke="none" stroke-width="0"/>
<text x="481.3" y="29.1" font-size="7" text-anchor="start" fill="#1e1e1e" textLength="14.5" lengthAdjust="spacingAndGlyphs" >Ctr+</text>
<text transform="translate(8.7 176.35) scale(0.93 1)" font-size="11.8" fill="#1e1e1e" stroke-width="0">C</text>
<line x1="63.7" y1="201" x2="63.7" y2="302.4" stroke="#1c1c1c" stroke-width="1.4" />
<line x1="60.1" y1="302.4" x2="63.7" y2="302.4" stroke="#1c1c1c" stroke-width="1" />
<text x="58.2" y="305.1" font-size="7.5" text-anchor="end" fill="#1e1e1e" >0.0</text>
<line x1="60.1" y1="290.12" x2="63.7" y2="290.12" stroke="#1c1c1c" stroke-width="1" />
<text x="58.2" y="292.82" font-size="7.5" text-anchor="end" fill="#1e1e1e" >0.5</text>
<line x1="60.1" y1="277.85" x2="63.7" y2="277.85" stroke="#1c1c1c" stroke-width="1" />
<text x="58.2" y="280.55" font-size="7.5" text-anchor="end" fill="#1e1e1e" >1.0</text>
<line x1="60.1" y1="265.57" x2="63.7" y2="265.57" stroke="#1c1c1c" stroke-width="1" />
<text x="58.2" y="268.27" font-size="7.5" text-anchor="end" fill="#1e1e1e" >1.5</text>
<line x1="60.1" y1="253.3" x2="63.7" y2="253.3" stroke="#1c1c1c" stroke-width="1" />
<text x="58.2" y="256" font-size="7.5" text-anchor="end" fill="#1e1e1e" >2.0</text>
<line x1="60.1" y1="241.02" x2="63.7" y2="241.02" stroke="#1c1c1c" stroke-width="1" />
<text x="58.2" y="243.72" font-size="7.5" text-anchor="end" fill="#1e1e1e" >2.5</text>
<line x1="60.1" y1="228.75" x2="63.7" y2="228.75" stroke="#1c1c1c" stroke-width="1" />
<text x="58.2" y="231.45" font-size="7.5" text-anchor="end" fill="#1e1e1e" >3.0</text>
<line x1="60.1" y1="216.47" x2="63.7" y2="216.47" stroke="#1c1c1c" stroke-width="1" />
<text x="58.2" y="219.17" font-size="7.5" text-anchor="end" fill="#1e1e1e" >3.5</text>
<line x1="60.1" y1="204.2" x2="63.7" y2="204.2" stroke="#1c1c1c" stroke-width="1" />
<text x="58.2" y="206.9" font-size="7.5" text-anchor="end" fill="#1e1e1e" >4.0</text>
<line x1="63.7" y1="302.4" x2="227.5" y2="302.4" stroke="#1c1c1c" stroke-width="1.3" />
<text x="41.4" y="252" font-size="9.5" text-anchor="middle" fill="#1e1e1e" textLength="90" lengthAdjust="spacingAndGlyphs" transform="rotate(-90 41.4 252)" >Blood loss (OD597nm)</text>
<line x1="83.8" y1="226.3" x2="83.8" y2="230" stroke="#1c1c1c" stroke-width="1" />
<line x1="80.1" y1="226.3" x2="87.5" y2="226.3" stroke="#1c1c1c" stroke-width="1.1" />
<rect x="74.9" y="230" width="17.8" height="72.4" fill="#6c4a6a" stroke="none" stroke-width="0"/>
<line x1="83.8" y1="302.4" x2="83.8" y2="305.4" stroke="#1c1c1c" stroke-width="1" />
<text x="83.8" y="315.5" font-size="7.5" text-anchor="middle" fill="#1e1e1e" textLength="10" lengthAdjust="spacingAndGlyphs" >HA</text>
<line x1="125.2" y1="297.4" x2="125.2" y2="298.8" stroke="#1c1c1c" stroke-width="1" />
<line x1="121.4" y1="297.4" x2="129" y2="297.4" stroke="#1c1c1c" stroke-width="1.1" />
<rect x="116.3" y="298.8" width="17.8" height="3.6" fill="#d99a3e" stroke="none" stroke-width="0"/>
<line x1="125.2" y1="302.4" x2="125.2" y2="305.4" stroke="#1c1c1c" stroke-width="1" />
<text x="125.2" y="315.5" font-size="7.5" text-anchor="middle" fill="#1e1e1e" textLength="10.8" lengthAdjust="spacingAndGlyphs" >WT</text>
<line x1="166.5" y1="275.5" x2="166.5" y2="281.25" stroke="#1c1c1c" stroke-width="1" />
<line x1="161.5" y1="275.5" x2="171.5" y2="275.5" stroke="#1c1c1c" stroke-width="1.1" />
<rect x="157.6" y="281.25" width="17.8" height="21.15" fill="#a33447" stroke="none" stroke-width="0"/>
<line x1="166.5" y1="302.4" x2="166.5" y2="305.4" stroke="#1c1c1c" stroke-width="1" />
<text x="166.5" y="315.5" font-size="7.5" text-anchor="middle" fill="#1e1e1e" textLength="28.5" lengthAdjust="spacingAndGlyphs" >pF8.FVIII</text>
<line x1="207.5" y1="290" x2="207.5" y2="290.75" stroke="#1c1c1c" stroke-width="1" />
<line x1="204" y1="290" x2="211" y2="290" stroke="#1c1c1c" stroke-width="1.1" />
<rect x="198.6" y="290.75" width="17.8" height="11.65" fill="#4a6189" stroke="none" stroke-width="0"/>
<line x1="207.5" y1="302.4" x2="207.5" y2="305.4" stroke="#1c1c1c" stroke-width="1" />
<text x="207.5" y="315.5" font-size="7.5" text-anchor="middle" fill="#1e1e1e" textLength="38.5" lengthAdjust="spacingAndGlyphs" >pF8.FVIII.co</text>
<path d="M83.5,204.5 L83.5,201.3 L207.2,201.3 L207.2,204.5" stroke="#333" stroke-width="1.0" fill="none"/>
<path d="M83.5,214.4 L83.5,211.2 L166.4,211.2 L166.4,214.4" stroke="#333" stroke-width="1.0" fill="none"/>
<path d="M83.5,224 L83.5,220.8 L126,220.8 L126,224" stroke="#333" stroke-width="1.0" fill="none"/>
<path d="M125.1,271.7 L125.1,268.7 L207.2,268.7 L207.2,271.7" stroke="#333" stroke-width="1.0" fill="none"/>
<line x1="166.4" y1="268.7" x2="166.4" y2="271.7" stroke="#333" stroke-width="1" />
<text x="145" y="200.5" font-size="6.5" text-anchor="middle" fill="#1e1e1e" >*</text>
<text x="125" y="210.2" font-size="6.5" text-anchor="middle" fill="#1e1e1e" >*</text>
<text x="105" y="220.2" font-size="6.5" text-anchor="middle" fill="#1e1e1e" >*</text>
<text x="145" y="268.2" font-size="6.5" text-anchor="middle" fill="#1e1e1e" >*</text>
<text x="186.2" y="268.2" font-size="6.5" text-anchor="middle" fill="#1e1e1e" >*</text>
<text x="185.8" y="225" font-size="7.3" text-anchor="start" fill="#1e1e1e" textLength="38" lengthAdjust="spacingAndGlyphs" >* p=&lt;0.0001</text>
<text transform="translate(252 176.25) scale(0.93 1)" font-size="11.8" fill="#1e1e1e" stroke-width="0">D</text>
<line x1="302.2" y1="204.8" x2="302.2" y2="302.5" stroke="#1c1c1c" stroke-width="1.4" />
<line x1="298.6" y1="302.5" x2="302.2" y2="302.5" stroke="#1c1c1c" stroke-width="1" />
<text x="296.4" y="305.2" font-size="7.5" text-anchor="end" fill="#1e1e1e" >0</text>
<line x1="298.6" y1="288.89" x2="302.2" y2="288.89" stroke="#1c1c1c" stroke-width="1" />
<text x="296.4" y="291.59" font-size="7.5" text-anchor="end" fill="#1e1e1e" >50</text>
<line x1="298.6" y1="275.27" x2="302.2" y2="275.27" stroke="#1c1c1c" stroke-width="1" />
<text x="296.4" y="277.97" font-size="7.5" text-anchor="end" fill="#1e1e1e" >100</text>
<line x1="298.6" y1="261.66" x2="302.2" y2="261.66" stroke="#1c1c1c" stroke-width="1" />
<text x="296.4" y="264.36" font-size="7.5" text-anchor="end" fill="#1e1e1e" >150</text>
<line x1="298.6" y1="248.04" x2="302.2" y2="248.04" stroke="#1c1c1c" stroke-width="1" />
<text x="296.4" y="250.74" font-size="7.5" text-anchor="end" fill="#1e1e1e" >200</text>
<line x1="298.6" y1="234.43" x2="302.2" y2="234.43" stroke="#1c1c1c" stroke-width="1" />
<text x="296.4" y="237.13" font-size="7.5" text-anchor="end" fill="#1e1e1e" >250</text>
<line x1="298.6" y1="220.81" x2="302.2" y2="220.81" stroke="#1c1c1c" stroke-width="1" />
<text x="296.4" y="223.51" font-size="7.5" text-anchor="end" fill="#1e1e1e" >300</text>
<line x1="298.6" y1="207.2" x2="302.2" y2="207.2" stroke="#1c1c1c" stroke-width="1" />
<text x="296.4" y="209.9" font-size="7.5" text-anchor="end" fill="#1e1e1e" >350</text>
<line x1="302.2" y1="302.5" x2="464.5" y2="302.5" stroke="#1c1c1c" stroke-width="1.3" />
<text x="277.4" y="251.6" font-size="9.5" text-anchor="middle" fill="#1e1e1e" textLength="40" lengthAdjust="spacingAndGlyphs" transform="rotate(-90 277.4 251.6)" >Time (sec)</text>
<line x1="322.5" y1="214.3" x2="322.5" y2="225.5" stroke="#1c1c1c" stroke-width="1" />
<line x1="317.5" y1="214.3" x2="327.5" y2="214.3" stroke="#1c1c1c" stroke-width="1.1" />
<rect x="313.8" y="225.5" width="17.4" height="77" fill="#6c4a6a" stroke="none" stroke-width="0"/>
<line x1="322.5" y1="302.5" x2="322.5" y2="305.5" stroke="#1c1c1c" stroke-width="1" />
<text x="322.5" y="315.8" font-size="7.5" text-anchor="middle" fill="#1e1e1e" textLength="10" lengthAdjust="spacingAndGlyphs" >HA</text>
<line x1="363.3" y1="290" x2="363.3" y2="291.4" stroke="#1c1c1c" stroke-width="1" />
<line x1="359.5" y1="290" x2="367.1" y2="290" stroke="#1c1c1c" stroke-width="1.1" />
<rect x="354.6" y="291.4" width="17.4" height="11.1" fill="#d99a3e" stroke="none" stroke-width="0"/>
<line x1="363.3" y1="302.5" x2="363.3" y2="305.5" stroke="#1c1c1c" stroke-width="1" />
<text x="363.3" y="315.8" font-size="7.5" text-anchor="middle" fill="#1e1e1e" textLength="10.8" lengthAdjust="spacingAndGlyphs" >WT</text>
<line x1="403.8" y1="285" x2="403.8" y2="286.75" stroke="#1c1c1c" stroke-width="1" />
<line x1="400.3" y1="285" x2="407.3" y2="285" stroke="#1c1c1c" stroke-width="1.1" />
<rect x="395.1" y="286.75" width="17.4" height="15.75" fill="#a33447" stroke="none" stroke-width="0"/>
<line x1="403.8" y1="302.5" x2="403.8" y2="305.5" stroke="#1c1c1c" stroke-width="1" />
<text x="403.8" y="315.8" font-size="7.5" text-anchor="middle" fill="#1e1e1e" textLength="28.5" lengthAdjust="spacingAndGlyphs" >pF8.FVIII</text>
<line x1="444.4" y1="289.2" x2="444.4" y2="290.2" stroke="#1c1c1c" stroke-width="1" />
<line x1="441.1" y1="289.2" x2="447.7" y2="289.2" stroke="#1c1c1c" stroke-width="1.1" />
<rect x="435.7" y="290.2" width="17.4" height="12.3" fill="#4a6189" stroke="none" stroke-width="0"/>
<line x1="444.4" y1="302.5" x2="444.4" y2="305.5" stroke="#1c1c1c" stroke-width="1" />
<text x="444.4" y="315.8" font-size="7.5" text-anchor="middle" fill="#1e1e1e" textLength="38.5" lengthAdjust="spacingAndGlyphs" >pF8.FVIII.co</text>
<path d="M322.2,192.5 L322.2,189.5 L444.5,189.5 L444.5,192.5" stroke="#333" stroke-width="1.0" fill="none"/>
<path d="M322.2,202.2 L322.2,199.2 L403.8,199.2 L403.8,202.2" stroke="#333" stroke-width="1.0" fill="none"/>
<path d="M322.2,211.8 L322.2,208.8 L364.5,208.8 L364.5,211.8" stroke="#333" stroke-width="1.0" fill="none"/>
<text x="343.8" y="207.7" font-size="6.5" text-anchor="middle" fill="#1e1e1e" >*</text>
<text x="363.8" y="198.2" font-size="6.5" text-anchor="middle" fill="#1e1e1e" >*</text>
<text x="383.8" y="188.2" font-size="6.5" text-anchor="middle" fill="#1e1e1e" >*</text>
<text x="421.3" y="225.7" font-size="7.3" text-anchor="start" fill="#1e1e1e" textLength="37.5" lengthAdjust="spacingAndGlyphs" >* p=&lt;0.0001</text>
<text transform="translate(9.6 343.25) scale(0.93 1)" font-size="11.8" fill="#1e1e1e" stroke-width="0">E</text>
<line x1="64" y1="357.5" x2="64" y2="452.4" stroke="#1c1c1c" stroke-width="1.4" />
<line x1="60.4" y1="452.4" x2="64" y2="452.4" stroke="#1c1c1c" stroke-width="1" />
<text x="58.6" y="455.1" font-size="7.5" text-anchor="end" fill="#1e1e1e" >0</text>
<line x1="60.4" y1="439.2" x2="64" y2="439.2" stroke="#1c1c1c" stroke-width="1" />
<text x="58.6" y="441.9" font-size="7.5" text-anchor="end" fill="#1e1e1e" >2</text>
<line x1="60.4" y1="426" x2="64" y2="426" stroke="#1c1c1c" stroke-width="1" />
<text x="58.6" y="428.7" font-size="7.5" text-anchor="end" fill="#1e1e1e" >4</text>
<line x1="60.4" y1="412.8" x2="64" y2="412.8" stroke="#1c1c1c" stroke-width="1" />
<text x="58.6" y="415.5" font-size="7.5" text-anchor="end" fill="#1e1e1e" >6</text>
<line x1="60.4" y1="399.6" x2="64" y2="399.6" stroke="#1c1c1c" stroke-width="1" />
<text x="58.6" y="402.3" font-size="7.5" text-anchor="end" fill="#1e1e1e" >8</text>
<line x1="60.4" y1="386.4" x2="64" y2="386.4" stroke="#1c1c1c" stroke-width="1" />
<text x="58.6" y="389.1" font-size="7.5" text-anchor="end" fill="#1e1e1e" >10</text>
<line x1="60.4" y1="373.2" x2="64" y2="373.2" stroke="#1c1c1c" stroke-width="1" />
<text x="58.6" y="375.9" font-size="7.5" text-anchor="end" fill="#1e1e1e" >12</text>
<line x1="60.4" y1="360" x2="64" y2="360" stroke="#1c1c1c" stroke-width="1" />
<text x="58.6" y="362.7" font-size="7.5" text-anchor="end" fill="#1e1e1e" >14</text>
<line x1="64" y1="452.4" x2="244.6" y2="452.4" stroke="#1c1c1c" stroke-width="1.3" />
<line x1="70.2" y1="452.4" x2="70.2" y2="455.4" stroke="#1c1c1c" stroke-width="1" />
<text x="70.2" y="465.8" font-size="7.5" text-anchor="middle" fill="#1e1e1e" >2</text>
<line x1="84.19" y1="452.4" x2="84.19" y2="455.4" stroke="#1c1c1c" stroke-width="1" />
<text x="84.19" y="465.8" font-size="7.5" text-anchor="middle" fill="#1e1e1e" >4</text>
<line x1="98.18" y1="452.4" x2="98.18" y2="455.4" stroke="#1c1c1c" stroke-width="1" />
<text x="98.18" y="465.8" font-size="7.5" text-anchor="middle" fill="#1e1e1e" >6</text>
<line x1="112.17" y1="452.4" x2="112.17" y2="455.4" stroke="#1c1c1c" stroke-width="1" />
<text x="112.17" y="465.8" font-size="7.5" text-anchor="middle" fill="#1e1e1e" >8</text>
<line x1="126.16" y1="452.4" x2="126.16" y2="455.4" stroke="#1c1c1c" stroke-width="1" />
<text x="126.16" y="465.8" font-size="7.5" text-anchor="middle" fill="#1e1e1e" >12</text>
<line x1="140.15" y1="452.4" x2="140.15" y2="455.4" stroke="#1c1c1c" stroke-width="1" />
<text x="140.15" y="465.8" font-size="7.5" text-anchor="middle" fill="#1e1e1e" >15</text>
<line x1="154.14" y1="452.4" x2="154.14" y2="455.4" stroke="#1c1c1c" stroke-width="1" />
<text x="154.14" y="465.8" font-size="7.5" text-anchor="middle" fill="#1e1e1e" >19</text>
<line x1="168.13" y1="452.4" x2="168.13" y2="455.4" stroke="#1c1c1c" stroke-width="1" />
<text x="168.13" y="465.8" font-size="7.5" text-anchor="middle" fill="#1e1e1e" >23</text>
<line x1="182.12" y1="452.4" x2="182.12" y2="455.4" stroke="#1c1c1c" stroke-width="1" />
<text x="182.12" y="465.8" font-size="7.5" text-anchor="middle" fill="#1e1e1e" >27</text>
<line x1="196.11" y1="452.4" x2="196.11" y2="455.4" stroke="#1c1c1c" stroke-width="1" />
<text x="196.11" y="465.8" font-size="7.5" text-anchor="middle" fill="#1e1e1e" >32</text>
<line x1="210.1" y1="452.4" x2="210.1" y2="455.4" stroke="#1c1c1c" stroke-width="1" />
<text x="210.1" y="465.8" font-size="7.5" text-anchor="middle" fill="#1e1e1e" >36</text>
<line x1="224.09" y1="452.4" x2="224.09" y2="455.4" stroke="#1c1c1c" stroke-width="1" />
<text x="224.09" y="465.8" font-size="7.5" text-anchor="middle" fill="#1e1e1e" >40</text>
<line x1="238.08" y1="452.4" x2="238.08" y2="455.4" stroke="#1c1c1c" stroke-width="1" />
<text x="238.08" y="465.8" font-size="7.5" text-anchor="middle" fill="#1e1e1e" >44</text>
<text x="155" y="477.7" font-size="9.5" text-anchor="middle" fill="#1e1e1e" textLength="123" lengthAdjust="spacingAndGlyphs" >Time after LV injection (weeks)</text>
<text x="42.9" y="408.2" font-size="9.5" text-anchor="middle" fill="#1e1e1e" textLength="64" lengthAdjust="spacingAndGlyphs" transform="rotate(-90 42.9 408.2)" >% hFVIII activity</text>
<polyline points="70.2,393.5 84.19,387.4 98.18,388.6 112.17,388.3 126.16,391.6 140.15,411.25 154.14,441.25 168.13,437.5 182.12,392 196.11,389.1 210.1,389.1 224.09,387.1 238.08,388.8" stroke="#4a6189" stroke-width="1.5" fill="none" stroke-linejoin="round" />
<circle cx="70.2" cy="393.5" r="2.2" fill="#4a6189"/>
<circle cx="84.19" cy="387.4" r="2.2" fill="#4a6189"/>
<circle cx="98.18" cy="388.6" r="2.2" fill="#4a6189"/>
<circle cx="112.17" cy="388.3" r="2.2" fill="#4a6189"/>
<circle cx="126.16" cy="391.6" r="2.2" fill="#4a6189"/>
<circle cx="140.15" cy="411.25" r="2.2" fill="#4a6189"/>
<circle cx="154.14" cy="441.25" r="2.2" fill="#4a6189"/>
<circle cx="168.13" cy="437.5" r="2.2" fill="#4a6189"/>
<circle cx="182.12" cy="392" r="2.2" fill="#4a6189"/>
<circle cx="196.11" cy="389.1" r="2.2" fill="#4a6189"/>
<circle cx="210.1" cy="389.1" r="2.2" fill="#4a6189"/>
<circle cx="224.09" cy="387.1" r="2.2" fill="#4a6189"/>
<circle cx="238.08" cy="388.8" r="2.2" fill="#4a6189"/>
<line x1="70.2" y1="389.5" x2="70.2" y2="397" stroke="#1c1c1c" stroke-width="0.9" />
<line x1="68.8" y1="389.5" x2="71.6" y2="389.5" stroke="#1c1c1c" stroke-width="0.9" />
<line x1="68.8" y1="397" x2="71.6" y2="397" stroke="#1c1c1c" stroke-width="0.9" />
<line x1="84.19" y1="384.5" x2="84.19" y2="390" stroke="#1c1c1c" stroke-width="0.9" />
<line x1="82.79" y1="384.5" x2="85.59" y2="384.5" stroke="#1c1c1c" stroke-width="0.9" />
<line x1="82.79" y1="390" x2="85.59" y2="390" stroke="#1c1c1c" stroke-width="0.9" />
<line x1="98.18" y1="385" x2="98.18" y2="392" stroke="#1c1c1c" stroke-width="0.9" />
<line x1="96.78" y1="385" x2="99.58" y2="385" stroke="#1c1c1c" stroke-width="0.9" />
<line x1="96.78" y1="392" x2="99.58" y2="392" stroke="#1c1c1c" stroke-width="0.9" />
<line x1="112.17" y1="386" x2="112.17" y2="390.5" stroke="#1c1c1c" stroke-width="0.9" />
<line x1="110.77" y1="386" x2="113.57" y2="386" stroke="#1c1c1c" stroke-width="0.9" />
<line x1="110.77" y1="390.5" x2="113.57" y2="390.5" stroke="#1c1c1c" stroke-width="0.9" />
<line x1="126.16" y1="389.8" x2="126.16" y2="394.2" stroke="#1c1c1c" stroke-width="0.9" />
<line x1="124.76" y1="389.8" x2="127.56" y2="389.8" stroke="#1c1c1c" stroke-width="0.9" />
<line x1="124.76" y1="394.2" x2="127.56" y2="394.2" stroke="#1c1c1c" stroke-width="0.9" />
<line x1="140.15" y1="409.8" x2="140.15" y2="412.8" stroke="#1c1c1c" stroke-width="0.9" />
<line x1="138.75" y1="409.8" x2="141.55" y2="409.8" stroke="#1c1c1c" stroke-width="0.9" />
<line x1="138.75" y1="412.8" x2="141.55" y2="412.8" stroke="#1c1c1c" stroke-width="0.9" />
<line x1="154.14" y1="439.2" x2="154.14" y2="443.5" stroke="#1c1c1c" stroke-width="0.9" />
<line x1="152.74" y1="439.2" x2="155.54" y2="439.2" stroke="#1c1c1c" stroke-width="0.9" />
<line x1="152.74" y1="443.5" x2="155.54" y2="443.5" stroke="#1c1c1c" stroke-width="0.9" />
<line x1="168.13" y1="435.3" x2="168.13" y2="439.8" stroke="#1c1c1c" stroke-width="0.9" />
<line x1="166.73" y1="435.3" x2="169.53" y2="435.3" stroke="#1c1c1c" stroke-width="0.9" />
<line x1="166.73" y1="439.8" x2="169.53" y2="439.8" stroke="#1c1c1c" stroke-width="0.9" />
<line x1="182.12" y1="387.5" x2="182.12" y2="395" stroke="#1c1c1c" stroke-width="0.9" />
<line x1="180.72" y1="387.5" x2="183.52" y2="387.5" stroke="#1c1c1c" stroke-width="0.9" />
<line x1="180.72" y1="395" x2="183.52" y2="395" stroke="#1c1c1c" stroke-width="0.9" />
<line x1="196.11" y1="386.5" x2="196.11" y2="392" stroke="#1c1c1c" stroke-width="0.9" />
<line x1="194.71" y1="386.5" x2="197.51" y2="386.5" stroke="#1c1c1c" stroke-width="0.9" />
<line x1="194.71" y1="392" x2="197.51" y2="392" stroke="#1c1c1c" stroke-width="0.9" />
<line x1="210.1" y1="386.8" x2="210.1" y2="391.5" stroke="#1c1c1c" stroke-width="0.9" />
<line x1="208.7" y1="386.8" x2="211.5" y2="386.8" stroke="#1c1c1c" stroke-width="0.9" />
<line x1="208.7" y1="391.5" x2="211.5" y2="391.5" stroke="#1c1c1c" stroke-width="0.9" />
<line x1="224.09" y1="384.5" x2="224.09" y2="390" stroke="#1c1c1c" stroke-width="0.9" />
<line x1="222.69" y1="384.5" x2="225.49" y2="384.5" stroke="#1c1c1c" stroke-width="0.9" />
<line x1="222.69" y1="390" x2="225.49" y2="390" stroke="#1c1c1c" stroke-width="0.9" />
<line x1="238.08" y1="386.8" x2="238.08" y2="390.8" stroke="#1c1c1c" stroke-width="0.9" />
<line x1="236.68" y1="386.8" x2="239.48" y2="386.8" stroke="#1c1c1c" stroke-width="0.9" />
<line x1="236.68" y1="390.8" x2="239.48" y2="390.8" stroke="#1c1c1c" stroke-width="0.9" />
<polyline points="70.2,401.5 84.19,389.4 98.18,388.9 112.17,391.6 126.16,392.8 140.15,392.5 154.14,383 168.13,380.75 182.12,378 196.11,378.5 210.1,378.5 224.09,379.4 238.08,379.4" stroke="#a33447" stroke-width="1.5" fill="none" stroke-linejoin="round" />
<circle cx="70.2" cy="401.5" r="1.8" fill="#fff" stroke="#a33447" stroke-width="1.1"/>
<circle cx="84.19" cy="389.4" r="1.8" fill="#fff" stroke="#a33447" stroke-width="1.1"/>
<circle cx="98.18" cy="388.9" r="1.8" fill="#fff" stroke="#a33447" stroke-width="1.1"/>
<circle cx="112.17" cy="391.6" r="1.8" fill="#fff" stroke="#a33447" stroke-width="1.1"/>
<circle cx="126.16" cy="392.8" r="1.8" fill="#fff" stroke="#a33447" stroke-width="1.1"/>
<circle cx="140.15" cy="392.5" r="1.8" fill="#fff" stroke="#a33447" stroke-width="1.1"/>
<circle cx="154.14" cy="383" r="1.8" fill="#fff" stroke="#a33447" stroke-width="1.1"/>
<circle cx="168.13" cy="380.75" r="1.8" fill="#fff" stroke="#a33447" stroke-width="1.1"/>
<circle cx="182.12" cy="378" r="1.8" fill="#fff" stroke="#a33447" stroke-width="1.1"/>
<circle cx="196.11" cy="378.5" r="1.8" fill="#fff" stroke="#a33447" stroke-width="1.1"/>
<circle cx="210.1" cy="378.5" r="1.8" fill="#fff" stroke="#a33447" stroke-width="1.1"/>
<circle cx="224.09" cy="379.4" r="1.8" fill="#fff" stroke="#a33447" stroke-width="1.1"/>
<circle cx="238.08" cy="379.4" r="1.8" fill="#fff" stroke="#a33447" stroke-width="1.1"/>
<line x1="70.2" y1="397.5" x2="70.2" y2="407.5" stroke="#1c1c1c" stroke-width="0.9" />
<line x1="68.8" y1="397.5" x2="71.6" y2="397.5" stroke="#1c1c1c" stroke-width="0.9" />
<line x1="68.8" y1="407.5" x2="71.6" y2="407.5" stroke="#1c1c1c" stroke-width="0.9" />
<line x1="84.19" y1="387" x2="84.19" y2="392" stroke="#1c1c1c" stroke-width="0.9" />
<line x1="82.79" y1="387" x2="85.59" y2="387" stroke="#1c1c1c" stroke-width="0.9" />
<line x1="82.79" y1="392" x2="85.59" y2="392" stroke="#1c1c1c" stroke-width="0.9" />
<line x1="98.18" y1="386" x2="98.18" y2="393" stroke="#1c1c1c" stroke-width="0.9" />
<line x1="96.78" y1="386" x2="99.58" y2="386" stroke="#1c1c1c" stroke-width="0.9" />
<line x1="96.78" y1="393" x2="99.58" y2="393" stroke="#1c1c1c" stroke-width="0.9" />
<line x1="112.17" y1="389" x2="112.17" y2="393.5" stroke="#1c1c1c" stroke-width="0.9" />
<line x1="110.77" y1="389" x2="113.57" y2="389" stroke="#1c1c1c" stroke-width="0.9" />
<line x1="110.77" y1="393.5" x2="113.57" y2="393.5" stroke="#1c1c1c" stroke-width="0.9" />
<line x1="126.16" y1="390" x2="126.16" y2="395" stroke="#1c1c1c" stroke-width="0.9" />
<line x1="124.76" y1="390" x2="127.56" y2="390" stroke="#1c1c1c" stroke-width="0.9" />
<line x1="124.76" y1="395" x2="127.56" y2="395" stroke="#1c1c1c" stroke-width="0.9" />
<line x1="154.14" y1="378.75" x2="154.14" y2="386.25" stroke="#1c1c1c" stroke-width="0.9" />
<line x1="152.74" y1="378.75" x2="155.54" y2="378.75" stroke="#1c1c1c" stroke-width="0.9" />
<line x1="152.74" y1="386.25" x2="155.54" y2="386.25" stroke="#1c1c1c" stroke-width="0.9" />
<line x1="168.13" y1="378.5" x2="168.13" y2="383" stroke="#1c1c1c" stroke-width="0.9" />
<line x1="166.73" y1="378.5" x2="169.53" y2="378.5" stroke="#1c1c1c" stroke-width="0.9" />
<line x1="166.73" y1="383" x2="169.53" y2="383" stroke="#1c1c1c" stroke-width="0.9" />
<line x1="182.12" y1="376" x2="182.12" y2="380" stroke="#1c1c1c" stroke-width="0.9" />
<line x1="180.72" y1="376" x2="183.52" y2="376" stroke="#1c1c1c" stroke-width="0.9" />
<line x1="180.72" y1="380" x2="183.52" y2="380" stroke="#1c1c1c" stroke-width="0.9" />
<line x1="196.11" y1="376.5" x2="196.11" y2="380.5" stroke="#1c1c1c" stroke-width="0.9" />
<line x1="194.71" y1="376.5" x2="197.51" y2="376.5" stroke="#1c1c1c" stroke-width="0.9" />
<line x1="194.71" y1="380.5" x2="197.51" y2="380.5" stroke="#1c1c1c" stroke-width="0.9" />
<line x1="224.09" y1="377" x2="224.09" y2="382" stroke="#1c1c1c" stroke-width="0.9" />
<line x1="222.69" y1="377" x2="225.49" y2="377" stroke="#1c1c1c" stroke-width="0.9" />
<line x1="222.69" y1="382" x2="225.49" y2="382" stroke="#1c1c1c" stroke-width="0.9" />
<text x="121.2" y="356.8" font-size="7.5" text-anchor="middle" fill="#1e1e1e" textLength="52" lengthAdjust="spacingAndGlyphs" >Tregs depletion</text>
<text x="121.3" y="365.6" font-size="7.5" text-anchor="middle" fill="#1e1e1e" textLength="19" lengthAdjust="spacingAndGlyphs" >(11w)</text>
<line x1="121.3" y1="371.6" x2="121.3" y2="377.2" stroke="#1c1c1c" stroke-width="1" />
<path d="M118.9,376 L123.7,376 L121.3,381.2 Z" fill="#1c1c1c"/>
<line x1="67.9" y1="432.6" x2="78.5" y2="432.6" stroke="#a33447" stroke-width="1.4" />
<circle cx="73.2" cy="432.6" r="1.8" fill="#fff" stroke="#a33447" stroke-width="1"/>
<text x="81.3" y="435.2" font-size="7.2" text-anchor="start" fill="#1e1e1e" textLength="27.5" lengthAdjust="spacingAndGlyphs" >pF8.FVIII</text>
<line x1="67.9" y1="443.9" x2="78.5" y2="443.9" stroke="#4a6189" stroke-width="1.4" />
<circle cx="73.2" cy="443.9" r="2.1" fill="#4a6189"/>
<text x="81.3" y="446.5" font-size="7.2" text-anchor="start" fill="#1e1e1e" textLength="44" lengthAdjust="spacingAndGlyphs" >pF8.FVIII Tregs</text>
<text x="125.4" y="444.2" font-size="4.5" text-anchor="start" fill="#1e1e1e" >-</text>
<text transform="translate(252.6 343.25) scale(0.93 1)" font-size="11.8" fill="#1e1e1e" stroke-width="0">F</text>
<line x1="302.1" y1="357.5" x2="302.1" y2="452.2" stroke="#1c1c1c" stroke-width="1.4" />
<line x1="298.5" y1="452.2" x2="302.1" y2="452.2" stroke="#1c1c1c" stroke-width="1" />
<text x="296.4" y="454.9" font-size="7.5" text-anchor="end" fill="#1e1e1e" >0</text>
<line x1="298.5" y1="433.62" x2="302.1" y2="433.62" stroke="#1c1c1c" stroke-width="1" />
<text x="296.4" y="436.32" font-size="7.5" text-anchor="end" fill="#1e1e1e" >1</text>
<line x1="298.5" y1="415.04" x2="302.1" y2="415.04" stroke="#1c1c1c" stroke-width="1" />
<text x="296.4" y="417.74" font-size="7.5" text-anchor="end" fill="#1e1e1e" >2</text>
<line x1="298.5" y1="396.46" x2="302.1" y2="396.46" stroke="#1c1c1c" stroke-width="1" />
<text x="296.4" y="399.16" font-size="7.5" text-anchor="end" fill="#1e1e1e" >3</text>
<line x1="298.5" y1="377.88" x2="302.1" y2="377.88" stroke="#1c1c1c" stroke-width="1" />
<text x="296.4" y="380.58" font-size="7.5" text-anchor="end" fill="#1e1e1e" >4</text>
<line x1="298.5" y1="359.3" x2="302.1" y2="359.3" stroke="#1c1c1c" stroke-width="1" />
<text x="296.4" y="362" font-size="7.5" text-anchor="end" fill="#1e1e1e" >5</text>
<line x1="302.1" y1="452.2" x2="486.8" y2="452.2" stroke="#1c1c1c" stroke-width="1.3" />
<line x1="312.5" y1="452.2" x2="312.5" y2="455.2" stroke="#1c1c1c" stroke-width="1" />
<text x="312.5" y="465.8" font-size="7.5" text-anchor="middle" fill="#1e1e1e" >8</text>
<line x1="333.03" y1="452.2" x2="333.03" y2="455.2" stroke="#1c1c1c" stroke-width="1" />
<text x="333.03" y="465.8" font-size="7.5" text-anchor="middle" fill="#1e1e1e" >12</text>
<line x1="353.56" y1="452.2" x2="353.56" y2="455.2" stroke="#1c1c1c" stroke-width="1" />
<text x="353.56" y="465.8" font-size="7.5" text-anchor="middle" fill="#1e1e1e" >15</text>
<line x1="374.09" y1="452.2" x2="374.09" y2="455.2" stroke="#1c1c1c" stroke-width="1" />
<text x="374.09" y="465.8" font-size="7.5" text-anchor="middle" fill="#1e1e1e" >19</text>
<line x1="394.62" y1="452.2" x2="394.62" y2="455.2" stroke="#1c1c1c" stroke-width="1" />
<text x="394.62" y="465.8" font-size="7.5" text-anchor="middle" fill="#1e1e1e" >23</text>
<line x1="415.15" y1="452.2" x2="415.15" y2="455.2" stroke="#1c1c1c" stroke-width="1" />
<text x="415.15" y="465.8" font-size="7.5" text-anchor="middle" fill="#1e1e1e" >27</text>
<line x1="435.68" y1="452.2" x2="435.68" y2="455.2" stroke="#1c1c1c" stroke-width="1" />
<text x="435.68" y="465.8" font-size="7.5" text-anchor="middle" fill="#1e1e1e" >32</text>
<line x1="456.21" y1="452.2" x2="456.21" y2="455.2" stroke="#1c1c1c" stroke-width="1" />
<text x="456.21" y="465.8" font-size="7.5" text-anchor="middle" fill="#1e1e1e" >36</text>
<line x1="476.74" y1="452.2" x2="476.74" y2="455.2" stroke="#1c1c1c" stroke-width="1" />
<text x="476.74" y="465.8" font-size="7.5" text-anchor="middle" fill="#1e1e1e" >44</text>
<text x="392.5" y="477.6" font-size="9.5" text-anchor="middle" fill="#1e1e1e" textLength="123" lengthAdjust="spacingAndGlyphs" >Time after LV injection (weeks)</text>
<text x="286.6" y="405" font-size="9.5" text-anchor="middle" fill="#1e1e1e" textLength="12" lengthAdjust="spacingAndGlyphs" transform="rotate(-90 286.6 405)" >BU</text>
<polyline points="312.5,435 333.03,435.5 353.56,435.5 374.09,434.5 394.62,440 415.15,442.5 435.68,442.5 456.21,440 476.74,438.75" stroke="#a33447" stroke-width="1.5" fill="none" stroke-linejoin="round" />
<circle cx="312.5" cy="435" r="1.8" fill="#fff" stroke="#a33447" stroke-width="1.1"/>
<circle cx="333.03" cy="435.5" r="1.8" fill="#fff" stroke="#a33447" stroke-width="1.1"/>
<circle cx="353.56" cy="435.5" r="1.8" fill="#fff" stroke="#a33447" stroke-width="1.1"/>
<circle cx="374.09" cy="434.5" r="1.8" fill="#fff" stroke="#a33447" stroke-width="1.1"/>
<circle cx="394.62" cy="440" r="1.8" fill="#fff" stroke="#a33447" stroke-width="1.1"/>
<circle cx="415.15" cy="442.5" r="1.8" fill="#fff" stroke="#a33447" stroke-width="1.1"/>
<circle cx="435.68" cy="442.5" r="1.8" fill="#fff" stroke="#a33447" stroke-width="1.1"/>
<circle cx="456.21" cy="440" r="1.8" fill="#fff" stroke="#a33447" stroke-width="1.1"/>
<circle cx="476.74" cy="438.75" r="1.8" fill="#fff" stroke="#a33447" stroke-width="1.1"/>
<line x1="312.5" y1="432" x2="312.5" y2="438" stroke="#1c1c1c" stroke-width="0.9" />
<line x1="311.1" y1="432" x2="313.9" y2="432" stroke="#1c1c1c" stroke-width="0.9" />
<line x1="311.1" y1="438" x2="313.9" y2="438" stroke="#1c1c1c" stroke-width="0.9" />
<line x1="333.03" y1="432.5" x2="333.03" y2="438.5" stroke="#1c1c1c" stroke-width="0.9" />
<line x1="331.63" y1="432.5" x2="334.43" y2="432.5" stroke="#1c1c1c" stroke-width="0.9" />
<line x1="331.63" y1="438.5" x2="334.43" y2="438.5" stroke="#1c1c1c" stroke-width="0.9" />
<line x1="353.56" y1="431.75" x2="353.56" y2="438.75" stroke="#1c1c1c" stroke-width="0.9" />
<line x1="352.16" y1="431.75" x2="354.96" y2="431.75" stroke="#1c1c1c" stroke-width="0.9" />
<line x1="352.16" y1="438.75" x2="354.96" y2="438.75" stroke="#1c1c1c" stroke-width="0.9" />
<line x1="374.09" y1="431.5" x2="374.09" y2="438.5" stroke="#1c1c1c" stroke-width="0.9" />
<line x1="372.69" y1="431.5" x2="375.49" y2="431.5" stroke="#1c1c1c" stroke-width="0.9" />
<line x1="372.69" y1="438.5" x2="375.49" y2="438.5" stroke="#1c1c1c" stroke-width="0.9" />
<line x1="394.62" y1="436.5" x2="394.62" y2="443.5" stroke="#1c1c1c" stroke-width="0.9" />
<line x1="393.22" y1="436.5" x2="396.02" y2="436.5" stroke="#1c1c1c" stroke-width="0.9" />
<line x1="393.22" y1="443.5" x2="396.02" y2="443.5" stroke="#1c1c1c" stroke-width="0.9" />
<line x1="415.15" y1="439" x2="415.15" y2="446" stroke="#1c1c1c" stroke-width="0.9" />
<line x1="413.75" y1="439" x2="416.55" y2="439" stroke="#1c1c1c" stroke-width="0.9" />
<line x1="413.75" y1="446" x2="416.55" y2="446" stroke="#1c1c1c" stroke-width="0.9" />
<line x1="456.21" y1="437" x2="456.21" y2="443" stroke="#1c1c1c" stroke-width="0.9" />
<line x1="454.81" y1="437" x2="457.61" y2="437" stroke="#1c1c1c" stroke-width="0.9" />
<line x1="454.81" y1="443" x2="457.61" y2="443" stroke="#1c1c1c" stroke-width="0.9" />
<line x1="476.74" y1="435.5" x2="476.74" y2="442" stroke="#1c1c1c" stroke-width="0.9" />
<line x1="475.34" y1="435.5" x2="478.14" y2="435.5" stroke="#1c1c1c" stroke-width="0.9" />
<line x1="475.34" y1="442" x2="478.14" y2="442" stroke="#1c1c1c" stroke-width="0.9" />
<polyline points="312.5,437 333.03,437 353.56,395.75 374.09,392.5 394.62,377.5 415.15,423.75 435.68,435 456.21,435.5 476.74,435.75" stroke="#4a6189" stroke-width="1.5" fill="none" stroke-linejoin="round" />
<circle cx="312.5" cy="437" r="2.2" fill="#4a6189"/>
<circle cx="333.03" cy="437" r="2.2" fill="#4a6189"/>
<circle cx="353.56" cy="395.75" r="2.2" fill="#4a6189"/>
<circle cx="374.09" cy="392.5" r="2.2" fill="#4a6189"/>
<circle cx="394.62" cy="377.5" r="2.2" fill="#4a6189"/>
<circle cx="415.15" cy="423.75" r="2.2" fill="#4a6189"/>
<circle cx="435.68" cy="435" r="2.2" fill="#4a6189"/>
<circle cx="456.21" cy="435.5" r="2.2" fill="#4a6189"/>
<circle cx="476.74" cy="435.75" r="2.2" fill="#4a6189"/>
<line x1="353.56" y1="387.5" x2="353.56" y2="403.75" stroke="#1c1c1c" stroke-width="0.9" />
<line x1="352.16" y1="387.5" x2="354.96" y2="387.5" stroke="#1c1c1c" stroke-width="0.9" />
<line x1="352.16" y1="403.75" x2="354.96" y2="403.75" stroke="#1c1c1c" stroke-width="0.9" />
<line x1="374.09" y1="385" x2="374.09" y2="401.25" stroke="#1c1c1c" stroke-width="0.9" />
<line x1="372.69" y1="385" x2="375.49" y2="385" stroke="#1c1c1c" stroke-width="0.9" />
<line x1="372.69" y1="401.25" x2="375.49" y2="401.25" stroke="#1c1c1c" stroke-width="0.9" />
<line x1="394.62" y1="373" x2="394.62" y2="381.25" stroke="#1c1c1c" stroke-width="0.9" />
<line x1="393.22" y1="373" x2="396.02" y2="373" stroke="#1c1c1c" stroke-width="0.9" />
<line x1="393.22" y1="381.25" x2="396.02" y2="381.25" stroke="#1c1c1c" stroke-width="0.9" />
<line x1="415.15" y1="418.75" x2="415.15" y2="428.75" stroke="#1c1c1c" stroke-width="0.9" />
<line x1="413.75" y1="418.75" x2="416.55" y2="418.75" stroke="#1c1c1c" stroke-width="0.9" />
<line x1="413.75" y1="428.75" x2="416.55" y2="428.75" stroke="#1c1c1c" stroke-width="0.9" />
<line x1="435.68" y1="432.5" x2="435.68" y2="437.5" stroke="#1c1c1c" stroke-width="0.9" />
<line x1="434.28" y1="432.5" x2="437.08" y2="432.5" stroke="#1c1c1c" stroke-width="0.9" />
<line x1="434.28" y1="437.5" x2="437.08" y2="437.5" stroke="#1c1c1c" stroke-width="0.9" />
<line x1="456.21" y1="433" x2="456.21" y2="438" stroke="#1c1c1c" stroke-width="0.9" />
<line x1="454.81" y1="433" x2="457.61" y2="433" stroke="#1c1c1c" stroke-width="0.9" />
<line x1="454.81" y1="438" x2="457.61" y2="438" stroke="#1c1c1c" stroke-width="0.9" />
<line x1="476.74" y1="432.5" x2="476.74" y2="439" stroke="#1c1c1c" stroke-width="0.9" />
<line x1="475.34" y1="432.5" x2="478.14" y2="432.5" stroke="#1c1c1c" stroke-width="0.9" />
<line x1="475.34" y1="439" x2="478.14" y2="439" stroke="#1c1c1c" stroke-width="0.9" />
<text x="331.2" y="368.2" font-size="7.5" text-anchor="middle" fill="#1e1e1e" textLength="52" lengthAdjust="spacingAndGlyphs" >Tregs depletion</text>
<text x="331" y="378" font-size="7.5" text-anchor="middle" fill="#1e1e1e" textLength="18.5" lengthAdjust="spacingAndGlyphs" >(11w)</text>
<line x1="331.2" y1="383" x2="331.2" y2="388.8" stroke="#1c1c1c" stroke-width="1" />
<path d="M328.8,387.6 L333.6,387.6 L331.2,392.8 Z" fill="#1c1c1c"/>
<line x1="421.3" y1="381.3" x2="431.3" y2="381.3" stroke="#a33447" stroke-width="1.4" />
<circle cx="426.3" cy="381.3" r="1.8" fill="#fff" stroke="#a33447" stroke-width="1"/>
<text x="433.8" y="383.9" font-size="7.2" text-anchor="start" fill="#1e1e1e" textLength="27.5" lengthAdjust="spacingAndGlyphs" >pF8.FVIII</text>
<line x1="421.3" y1="392.8" x2="431.3" y2="392.8" stroke="#4a6189" stroke-width="1.4" />
<circle cx="426.3" cy="392.8" r="2.1" fill="#4a6189"/>
<text x="433.8" y="395.4" font-size="7.2" text-anchor="start" fill="#1e1e1e" textLength="44" lengthAdjust="spacingAndGlyphs" >pF8.FVIII Tregs</text>
<text x="478.4" y="392.6" font-size="4.5" text-anchor="start" fill="#1e1e1e" >-</text>
<text transform="translate(8.6 506.45) scale(0.93 1)" font-size="11.8" fill="#1e1e1e" stroke-width="0">G</text>
<line x1="63.8" y1="514.5" x2="63.8" y2="608.3" stroke="#1c1c1c" stroke-width="1.4" />
<line x1="60.2" y1="608.3" x2="63.8" y2="608.3" stroke="#1c1c1c" stroke-width="1" />
<text x="58.2" y="611" font-size="7.5" text-anchor="end" fill="#1e1e1e" >0</text>
<line x1="60.2" y1="599.2" x2="63.8" y2="599.2" stroke="#1c1c1c" stroke-width="1" />
<text x="58.2" y="601.9" font-size="7.5" text-anchor="end" fill="#1e1e1e" >2000</text>
<line x1="60.2" y1="590.1" x2="63.8" y2="590.1" stroke="#1c1c1c" stroke-width="1" />
<text x="58.2" y="592.8" font-size="7.5" text-anchor="end" fill="#1e1e1e" >4000</text>
<line x1="60.2" y1="581" x2="63.8" y2="581" stroke="#1c1c1c" stroke-width="1" />
<text x="58.2" y="583.7" font-size="7.5" text-anchor="end" fill="#1e1e1e" >6000</text>
<line x1="60.2" y1="571.9" x2="63.8" y2="571.9" stroke="#1c1c1c" stroke-width="1" />
<text x="58.2" y="574.6" font-size="7.5" text-anchor="end" fill="#1e1e1e" >8000</text>
<line x1="60.2" y1="562.8" x2="63.8" y2="562.8" stroke="#1c1c1c" stroke-width="1" />
<text x="58.2" y="565.5" font-size="7.5" text-anchor="end" fill="#1e1e1e" >10000</text>
<line x1="60.2" y1="553.7" x2="63.8" y2="553.7" stroke="#1c1c1c" stroke-width="1" />
<text x="58.2" y="556.4" font-size="7.5" text-anchor="end" fill="#1e1e1e" >12000</text>
<line x1="60.2" y1="544.6" x2="63.8" y2="544.6" stroke="#1c1c1c" stroke-width="1" />
<text x="58.2" y="547.3" font-size="7.5" text-anchor="end" fill="#1e1e1e" >14000</text>
<line x1="60.2" y1="535.5" x2="63.8" y2="535.5" stroke="#1c1c1c" stroke-width="1" />
<text x="58.2" y="538.2" font-size="7.5" text-anchor="end" fill="#1e1e1e" >16000</text>
<line x1="60.2" y1="526.4" x2="63.8" y2="526.4" stroke="#1c1c1c" stroke-width="1" />
<text x="58.2" y="529.1" font-size="7.5" text-anchor="end" fill="#1e1e1e" >18000</text>
<line x1="60.2" y1="517.3" x2="63.8" y2="517.3" stroke="#1c1c1c" stroke-width="1" />
<text x="58.2" y="520" font-size="7.5" text-anchor="end" fill="#1e1e1e" >20000</text>
<line x1="63.8" y1="608.3" x2="242.1" y2="608.3" stroke="#1c1c1c" stroke-width="1.3" />
<line x1="73.75" y1="608.3" x2="73.75" y2="611.3" stroke="#1c1c1c" stroke-width="1" />
<text x="73.75" y="622" font-size="7.5" text-anchor="middle" fill="#1e1e1e" >8</text>
<line x1="93.75" y1="608.3" x2="93.75" y2="611.3" stroke="#1c1c1c" stroke-width="1" />
<text x="93.75" y="622" font-size="7.5" text-anchor="middle" fill="#1e1e1e" >12</text>
<line x1="113.75" y1="608.3" x2="113.75" y2="611.3" stroke="#1c1c1c" stroke-width="1" />
<text x="113.75" y="622" font-size="7.5" text-anchor="middle" fill="#1e1e1e" >15</text>
<line x1="133.75" y1="608.3" x2="133.75" y2="611.3" stroke="#1c1c1c" stroke-width="1" />
<text x="133.75" y="622" font-size="7.5" text-anchor="middle" fill="#1e1e1e" >19</text>
<line x1="153.75" y1="608.3" x2="153.75" y2="611.3" stroke="#1c1c1c" stroke-width="1" />
<text x="153.75" y="622" font-size="7.5" text-anchor="middle" fill="#1e1e1e" >23</text>
<line x1="173.75" y1="608.3" x2="173.75" y2="611.3" stroke="#1c1c1c" stroke-width="1" />
<text x="173.75" y="622" font-size="7.5" text-anchor="middle" fill="#1e1e1e" >27</text>
<line x1="193.75" y1="608.3" x2="193.75" y2="611.3" stroke="#1c1c1c" stroke-width="1" />
<text x="193.75" y="622" font-size="7.5" text-anchor="middle" fill="#1e1e1e" >32</text>
<line x1="213.75" y1="608.3" x2="213.75" y2="611.3" stroke="#1c1c1c" stroke-width="1" />
<text x="213.75" y="622" font-size="7.5" text-anchor="middle" fill="#1e1e1e" >36</text>
<line x1="233.75" y1="608.3" x2="233.75" y2="611.3" stroke="#1c1c1c" stroke-width="1" />
<text x="233.75" y="622" font-size="7.5" text-anchor="middle" fill="#1e1e1e" >44</text>
<text x="155.8" y="635.3" font-size="9.5" text-anchor="middle" fill="#1e1e1e" textLength="123" lengthAdjust="spacingAndGlyphs" >Time after LV injection (weeks)</text>
<text x="29.4" y="563.1" font-size="9.5" text-anchor="middle" fill="#1e1e1e" textLength="127.5" lengthAdjust="spacingAndGlyphs" transform="rotate(-90 29.4 563.1)" >FVIII-specific antibodies (ng/ml)</text>
<line x1="113.75" y1="537.3" x2="113.75" y2="606" stroke="#5e5e5e" stroke-width="1.5" />
<line x1="112.25" y1="537.3" x2="115.25" y2="537.3" stroke="#1c1c1c" stroke-width="1" />
<line x1="112.25" y1="542.3" x2="115.25" y2="542.3" stroke="#1c1c1c" stroke-width="1" />
<line x1="112.25" y1="569.2" x2="115.25" y2="569.2" stroke="#1c1c1c" stroke-width="1" />
<line x1="112.25" y1="595.6" x2="115.25" y2="595.6" stroke="#1c1c1c" stroke-width="1" />
<line x1="133.75" y1="519" x2="133.75" y2="606" stroke="#5e5e5e" stroke-width="1.5" />
<line x1="132.25" y1="519" x2="135.25" y2="519" stroke="#1c1c1c" stroke-width="1" />
<line x1="132.25" y1="548.5" x2="135.25" y2="548.5" stroke="#1c1c1c" stroke-width="1" />
<line x1="132.25" y1="577.7" x2="135.25" y2="577.7" stroke="#1c1c1c" stroke-width="1" />
<line x1="132.25" y1="594.6" x2="135.25" y2="594.6" stroke="#1c1c1c" stroke-width="1" />
<line x1="152.25" y1="571.2" x2="155.25" y2="571.2" stroke="#1c1c1c" stroke-width="1" />
<line x1="152.25" y1="599.4" x2="155.25" y2="599.4" stroke="#1c1c1c" stroke-width="1" />
<line x1="153.75" y1="571.2" x2="153.75" y2="574" stroke="#1c1c1c" stroke-width="0.9" />
<polyline points="73.75,608.3 93.75,608.3 113.75,608.3 133.75,608.3 153.75,608.3 173.75,608.3 193.75,608.3 213.75,608.3 233.75,608.3" stroke="#a33447" stroke-width="1.5" fill="none" stroke-linejoin="round" />
<circle cx="73.75" cy="608.3" r="2.4" fill="#a33447"/>
<circle cx="93.75" cy="608.3" r="2.4" fill="#a33447"/>
<circle cx="113.75" cy="608.3" r="2.4" fill="#a33447"/>
<circle cx="133.75" cy="608.3" r="2.4" fill="#a33447"/>
<circle cx="153.75" cy="608.3" r="2.4" fill="#a33447"/>
<circle cx="173.75" cy="608.3" r="2.4" fill="#a33447"/>
<circle cx="193.75" cy="608.3" r="2.4" fill="#a33447"/>
<circle cx="213.75" cy="608.3" r="2.4" fill="#a33447"/>
<circle cx="233.75" cy="608.3" r="2.4" fill="#a33447"/>
<line x1="173.75" y1="596.5" x2="173.75" y2="601.5" stroke="#1c1c1c" stroke-width="0.9" />
<line x1="172.25" y1="596.5" x2="175.25" y2="596.5" stroke="#1c1c1c" stroke-width="0.9" />
<line x1="172.25" y1="601.5" x2="175.25" y2="601.5" stroke="#1c1c1c" stroke-width="0.9" />
<line x1="193.75" y1="596" x2="193.75" y2="601" stroke="#1c1c1c" stroke-width="0.9" />
<line x1="192.25" y1="596" x2="195.25" y2="596" stroke="#1c1c1c" stroke-width="0.9" />
<line x1="192.25" y1="601" x2="195.25" y2="601" stroke="#1c1c1c" stroke-width="0.9" />
<line x1="213.75" y1="597.5" x2="213.75" y2="604" stroke="#1c1c1c" stroke-width="0.9" />
<line x1="212.25" y1="597.5" x2="215.25" y2="597.5" stroke="#1c1c1c" stroke-width="0.9" />
<line x1="212.25" y1="604" x2="215.25" y2="604" stroke="#1c1c1c" stroke-width="0.9" />
<polyline points="73.75,608.3 93.75,608 113.75,600.4 133.75,600.8 153.75,602.7 173.75,607 193.75,607 213.75,607.8 233.75,607.8" stroke="#4a6189" stroke-width="1.5" fill="none" stroke-linejoin="round" />
<polyline points="73.75,608.3 93.75,606.5 113.75,566.2 133.75,556.7 153.75,589.2 173.75,605.75 193.75,605.75 213.75,607.3 233.75,607.5" stroke="#4a6189" stroke-width="1.5" fill="none" stroke-linejoin="round" />
<polyline points="73.75,608.3 93.75,606.2 113.75,556.7 133.75,563.8 153.75,573.5 173.75,599 193.75,598.5 213.75,601 233.75,600.75" stroke="#4a6189" stroke-width="1.5" fill="none" stroke-linejoin="round" />
<rect x="71.75" y="606.3" width="4" height="4" fill="#4a6189" stroke="none" stroke-width="0"/>
<rect x="91.75" y="604.5" width="4" height="4" fill="#4a6189" stroke="none" stroke-width="0"/>
<rect x="111.75" y="564.2" width="4" height="4" fill="#4a6189" stroke="none" stroke-width="0"/>
<rect x="131.75" y="554.7" width="4" height="4" fill="#4a6189" stroke="none" stroke-width="0"/>
<rect x="151.75" y="587.2" width="4" height="4" fill="#4a6189" stroke="none" stroke-width="0"/>
<rect x="171.75" y="603.75" width="4" height="4" fill="#4a6189" stroke="none" stroke-width="0"/>
<rect x="191.75" y="603.75" width="4" height="4" fill="#4a6189" stroke="none" stroke-width="0"/>
<rect x="211.75" y="605.3" width="4" height="4" fill="#4a6189" stroke="none" stroke-width="0"/>
<rect x="231.75" y="605.5" width="4" height="4" fill="#4a6189" stroke="none" stroke-width="0"/>
<path d="M73.75,605.54 L76.51,610.37 L70.99,610.37 Z" fill="#4a6189"/>
<path d="M93.75,603.44 L96.51,608.27 L90.99,608.27 Z" fill="#4a6189"/>
<path d="M113.75,553.94 L116.51,558.77 L110.99,558.77 Z" fill="#4a6189"/>
<path d="M133.75,561.04 L136.51,565.87 L130.99,565.87 Z" fill="#4a6189"/>
<path d="M153.75,570.74 L156.51,575.57 L150.99,575.57 Z" fill="#4a6189"/>
<path d="M173.75,596.24 L176.51,601.07 L170.99,601.07 Z" fill="#4a6189"/>
<path d="M193.75,595.74 L196.51,600.57 L190.99,600.57 Z" fill="#4a6189"/>
<path d="M213.75,598.24 L216.51,603.07 L210.99,603.07 Z" fill="#4a6189"/>
<path d="M233.75,597.99 L236.51,602.82 L230.99,602.82 Z" fill="#4a6189"/>
<path d="M73.75,605.7 L76.35,608.3 L73.75,610.9 L71.15,608.3 Z" fill="#4a6189"/>
<path d="M93.75,605.4 L96.35,608 L93.75,610.6 L91.15,608 Z" fill="#4a6189"/>
<path d="M113.75,597.8 L116.35,600.4 L113.75,603 L111.15,600.4 Z" fill="#4a6189"/>
<path d="M133.75,598.2 L136.35,600.8 L133.75,603.4 L131.15,600.8 Z" fill="#4a6189"/>
<path d="M153.75,600.1 L156.35,602.7 L153.75,605.3 L151.15,602.7 Z" fill="#4a6189"/>
<path d="M173.75,604.4 L176.35,607 L173.75,609.6 L171.15,607 Z" fill="#4a6189"/>
<path d="M193.75,604.4 L196.35,607 L193.75,609.6 L191.15,607 Z" fill="#4a6189"/>
<path d="M213.75,605.2 L216.35,607.8 L213.75,610.4 L211.15,607.8 Z" fill="#4a6189"/>
<path d="M233.75,605.2 L236.35,607.8 L233.75,610.4 L231.15,607.8 Z" fill="#4a6189"/>
<line x1="159.3" y1="506.2" x2="169.7" y2="506.2" stroke="#a33447" stroke-width="1.4" />
<rect x="162.8" y="504.5" width="3.4" height="3.4" fill="#a33447" stroke="none" stroke-width="0"/>
<text x="172.3" y="508.9" font-size="7.4" text-anchor="start" fill="#1e1e1e" textLength="14.5" lengthAdjust="spacingAndGlyphs" >IgG1</text>
<line x1="159.3" y1="517.5" x2="169.7" y2="517.5" stroke="#a33447" stroke-width="1.4" />
<path d="M164.5,515.46 L166.54,519.03 L162.46,519.03 Z" fill="#a33447"/>
<text x="172.3" y="520.2" font-size="7.4" text-anchor="start" fill="#1e1e1e" textLength="20" lengthAdjust="spacingAndGlyphs" >IgG2a</text>
<line x1="159.3" y1="528.7" x2="169.7" y2="528.7" stroke="#a33447" stroke-width="1.4" />
<path d="M164.5,526.49 L166.71,528.7 L164.5,530.91 L162.29,528.7 Z" fill="#a33447"/>
<text x="172.3" y="531.4" font-size="7.4" text-anchor="start" fill="#1e1e1e" textLength="20.3" lengthAdjust="spacingAndGlyphs" >IgG2b</text>
<line x1="159.3" y1="540.3" x2="169.7" y2="540.3" stroke="#4a6189" stroke-width="1.4" />
<rect x="162.8" y="538.6" width="3.4" height="3.4" fill="#4a6189" stroke="none" stroke-width="0"/>
<text x="172.3" y="543" font-size="7.4" text-anchor="start" fill="#1e1e1e" textLength="14.5" lengthAdjust="spacingAndGlyphs" >IgG1</text>
<line x1="159.3" y1="551.7" x2="169.7" y2="551.7" stroke="#4a6189" stroke-width="1.4" />
<path d="M164.5,549.66 L166.54,553.23 L162.46,553.23 Z" fill="#4a6189"/>
<text x="172.3" y="554.4" font-size="7.4" text-anchor="start" fill="#1e1e1e" textLength="20" lengthAdjust="spacingAndGlyphs" >IgG2a</text>
<line x1="159.3" y1="563" x2="169.7" y2="563" stroke="#4a6189" stroke-width="1.4" />
<path d="M164.5,560.79 L166.71,563 L164.5,565.21 L162.29,563 Z" fill="#4a6189"/>
<text x="172.3" y="565.7" font-size="7.4" text-anchor="start" fill="#1e1e1e" textLength="20.3" lengthAdjust="spacingAndGlyphs" >IgG2b</text>
<line x1="196.5" y1="502.3" x2="196.5" y2="532.2" stroke="#1c1c1c" stroke-width="1" />
<line x1="196.5" y1="536.5" x2="196.5" y2="566.3" stroke="#1c1c1c" stroke-width="1" />
<text x="200" y="520.2" font-size="7.4" text-anchor="start" fill="#1e1e1e" textLength="26" lengthAdjust="spacingAndGlyphs" >pF8.FVIII</text>
<text x="200" y="554.4" font-size="7.4" text-anchor="start" fill="#1e1e1e" textLength="41" lengthAdjust="spacingAndGlyphs" >pF8.FVIII Treg</text>
<text transform="translate(251.6 506.55) scale(0.93 1)" font-size="11.8" fill="#1e1e1e" stroke-width="0">H</text>
<line x1="302.2" y1="516.6" x2="302.2" y2="608.3" stroke="#1c1c1c" stroke-width="1.4" />
<line x1="298.6" y1="608.3" x2="302.2" y2="608.3" stroke="#1c1c1c" stroke-width="1" />
<text x="296.4" y="611" font-size="7.5" text-anchor="end" fill="#1e1e1e" >0</text>
<line x1="298.6" y1="595.57" x2="302.2" y2="595.57" stroke="#1c1c1c" stroke-width="1" />
<text x="296.4" y="598.27" font-size="7.5" text-anchor="end" fill="#1e1e1e" >1</text>
<line x1="298.6" y1="582.84" x2="302.2" y2="582.84" stroke="#1c1c1c" stroke-width="1" />
<text x="296.4" y="585.54" font-size="7.5" text-anchor="end" fill="#1e1e1e" >2</text>
<line x1="298.6" y1="570.11" x2="302.2" y2="570.11" stroke="#1c1c1c" stroke-width="1" />
<text x="296.4" y="572.81" font-size="7.5" text-anchor="end" fill="#1e1e1e" >3</text>
<line x1="298.6" y1="557.39" x2="302.2" y2="557.39" stroke="#1c1c1c" stroke-width="1" />
<text x="296.4" y="560.09" font-size="7.5" text-anchor="end" fill="#1e1e1e" >4</text>
<line x1="298.6" y1="544.66" x2="302.2" y2="544.66" stroke="#1c1c1c" stroke-width="1" />
<text x="296.4" y="547.36" font-size="7.5" text-anchor="end" fill="#1e1e1e" >5</text>
<line x1="298.6" y1="531.93" x2="302.2" y2="531.93" stroke="#1c1c1c" stroke-width="1" />
<text x="296.4" y="534.63" font-size="7.5" text-anchor="end" fill="#1e1e1e" >6</text>
<line x1="298.6" y1="519.2" x2="302.2" y2="519.2" stroke="#1c1c1c" stroke-width="1" />
<text x="296.4" y="521.9" font-size="7.5" text-anchor="end" fill="#1e1e1e" >7</text>
<line x1="302.2" y1="608.3" x2="486.3" y2="608.3" stroke="#1c1c1c" stroke-width="1.3" />
<line x1="312.5" y1="608.3" x2="312.5" y2="611.3" stroke="#1c1c1c" stroke-width="1" />
<text x="312.5" y="622" font-size="7.5" text-anchor="middle" fill="#1e1e1e" >8</text>
<line x1="333" y1="608.3" x2="333" y2="611.3" stroke="#1c1c1c" stroke-width="1" />
<text x="333" y="622" font-size="7.5" text-anchor="middle" fill="#1e1e1e" >12</text>
<line x1="353.5" y1="608.3" x2="353.5" y2="611.3" stroke="#1c1c1c" stroke-width="1" />
<text x="353.5" y="622" font-size="7.5" text-anchor="middle" fill="#1e1e1e" >15</text>
<line x1="374" y1="608.3" x2="374" y2="611.3" stroke="#1c1c1c" stroke-width="1" />
<text x="374" y="622" font-size="7.5" text-anchor="middle" fill="#1e1e1e" >19</text>
<line x1="394.5" y1="608.3" x2="394.5" y2="611.3" stroke="#1c1c1c" stroke-width="1" />
<text x="394.5" y="622" font-size="7.5" text-anchor="middle" fill="#1e1e1e" >23</text>
<line x1="415" y1="608.3" x2="415" y2="611.3" stroke="#1c1c1c" stroke-width="1" />
<text x="415" y="622" font-size="7.5" text-anchor="middle" fill="#1e1e1e" >27</text>
<line x1="435.5" y1="608.3" x2="435.5" y2="611.3" stroke="#1c1c1c" stroke-width="1" />
<text x="435.5" y="622" font-size="7.5" text-anchor="middle" fill="#1e1e1e" >32</text>
<line x1="456" y1="608.3" x2="456" y2="611.3" stroke="#1c1c1c" stroke-width="1" />
<text x="456" y="622" font-size="7.5" text-anchor="middle" fill="#1e1e1e" >36</text>
<line x1="476.5" y1="608.3" x2="476.5" y2="611.3" stroke="#1c1c1c" stroke-width="1" />
<text x="476.5" y="622" font-size="7.5" text-anchor="middle" fill="#1e1e1e" >44</text>
<text x="394.4" y="635.3" font-size="9.5" text-anchor="middle" fill="#1e1e1e" textLength="123" lengthAdjust="spacingAndGlyphs" >Time after LV injection (weeks)</text>
<text x="275.7" y="561.9" font-size="9.5" text-anchor="middle" fill="#1e1e1e" textLength="30" lengthAdjust="spacingAndGlyphs" transform="rotate(-90 275.7 561.9)" >% tregs</text>
<text transform="translate(285.9 563.1) rotate(-90)" font-size="9.5" fill="#1e1e1e" text-anchor="middle" textLength="90.6" lengthAdjust="spacingAndGlyphs">(CD4<tspan font-size="6" dy="-3.2">+</tspan><tspan dy="3.2">-CD25</tspan><tspan font-size="6" dy="-3.2">+</tspan><tspan dy="3.2">-Foxp3+)</tspan></text>
<polyline points="312.5,552.7 333,553 353.5,552.7 374,551.3 394.5,550.8 415,550.8 435.5,551.7 456,551.3 476.5,550.4" stroke="#6c4a6a" stroke-width="1.5" fill="none" stroke-linejoin="round" />
<path d="M310.6,551.1 L314.4,554.3 M310.6,554.3 L314.4,551.1" stroke="#6c4a6a" stroke-width="1.1" fill="none"/>
<path d="M331.1,551.4 L334.9,554.6 M331.1,554.6 L334.9,551.4" stroke="#6c4a6a" stroke-width="1.1" fill="none"/>
<path d="M351.6,551.1 L355.4,554.3 M351.6,554.3 L355.4,551.1" stroke="#6c4a6a" stroke-width="1.1" fill="none"/>
<path d="M372.1,549.7 L375.9,552.9 M372.1,552.9 L375.9,549.7" stroke="#6c4a6a" stroke-width="1.1" fill="none"/>
<path d="M392.6,549.2 L396.4,552.4 M392.6,552.4 L396.4,549.2" stroke="#6c4a6a" stroke-width="1.1" fill="none"/>
<path d="M413.1,549.2 L416.9,552.4 M413.1,552.4 L416.9,549.2" stroke="#6c4a6a" stroke-width="1.1" fill="none"/>
<path d="M433.6,550.1 L437.4,553.3 M433.6,553.3 L437.4,550.1" stroke="#6c4a6a" stroke-width="1.1" fill="none"/>
<path d="M454.1,549.7 L457.9,552.9 M454.1,552.9 L457.9,549.7" stroke="#6c4a6a" stroke-width="1.1" fill="none"/>
<path d="M474.6,548.8 L478.4,552 M474.6,552 L478.4,548.8" stroke="#6c4a6a" stroke-width="1.1" fill="none"/>
<line x1="312.5" y1="548.9" x2="312.5" y2="557" stroke="#1c1c1c" stroke-width="0.9" />
<line x1="311.1" y1="548.9" x2="313.9" y2="548.9" stroke="#1c1c1c" stroke-width="0.9" />
<line x1="311.1" y1="557" x2="313.9" y2="557" stroke="#1c1c1c" stroke-width="0.9" />
<line x1="333" y1="549.6" x2="333" y2="556.1" stroke="#1c1c1c" stroke-width="0.9" />
<line x1="331.6" y1="549.6" x2="334.4" y2="549.6" stroke="#1c1c1c" stroke-width="0.9" />
<line x1="331.6" y1="556.1" x2="334.4" y2="556.1" stroke="#1c1c1c" stroke-width="0.9" />
<line x1="353.5" y1="549.6" x2="353.5" y2="556.1" stroke="#1c1c1c" stroke-width="0.9" />
<line x1="352.1" y1="549.6" x2="354.9" y2="549.6" stroke="#1c1c1c" stroke-width="0.9" />
<line x1="352.1" y1="556.1" x2="354.9" y2="556.1" stroke="#1c1c1c" stroke-width="0.9" />
<line x1="374" y1="549.2" x2="374" y2="554" stroke="#1c1c1c" stroke-width="0.9" />
<line x1="372.6" y1="549.2" x2="375.4" y2="549.2" stroke="#1c1c1c" stroke-width="0.9" />
<line x1="372.6" y1="554" x2="375.4" y2="554" stroke="#1c1c1c" stroke-width="0.9" />
<line x1="394.5" y1="548.8" x2="394.5" y2="554.2" stroke="#1c1c1c" stroke-width="0.9" />
<line x1="393.1" y1="548.8" x2="395.9" y2="548.8" stroke="#1c1c1c" stroke-width="0.9" />
<line x1="393.1" y1="554.2" x2="395.9" y2="554.2" stroke="#1c1c1c" stroke-width="0.9" />
<line x1="415" y1="548" x2="415" y2="554.2" stroke="#1c1c1c" stroke-width="0.9" />
<line x1="413.6" y1="548" x2="416.4" y2="548" stroke="#1c1c1c" stroke-width="0.9" />
<line x1="413.6" y1="554.2" x2="416.4" y2="554.2" stroke="#1c1c1c" stroke-width="0.9" />
<line x1="435.5" y1="547.9" x2="435.5" y2="556.2" stroke="#1c1c1c" stroke-width="0.9" />
<line x1="434.1" y1="547.9" x2="436.9" y2="547.9" stroke="#1c1c1c" stroke-width="0.9" />
<line x1="434.1" y1="556.2" x2="436.9" y2="556.2" stroke="#1c1c1c" stroke-width="0.9" />
<line x1="456" y1="546" x2="456" y2="556.9" stroke="#1c1c1c" stroke-width="0.9" />
<line x1="454.6" y1="546" x2="457.4" y2="546" stroke="#1c1c1c" stroke-width="0.9" />
<line x1="454.6" y1="556.9" x2="457.4" y2="556.9" stroke="#1c1c1c" stroke-width="0.9" />
<line x1="476.5" y1="547.5" x2="476.5" y2="554.2" stroke="#1c1c1c" stroke-width="0.9" />
<line x1="475.1" y1="547.5" x2="477.9" y2="547.5" stroke="#1c1c1c" stroke-width="0.9" />
<line x1="475.1" y1="554.2" x2="477.9" y2="554.2" stroke="#1c1c1c" stroke-width="0.9" />
<polyline points="312.5,537.5 333,536.6 353.5,536.6 374,536.2 394.5,533.5 415,534.4 435.5,536.7 456,533.1 476.5,535" stroke="#a33447" stroke-width="1.5" fill="none" stroke-linejoin="round" />
<circle cx="312.5" cy="537.5" r="1.8" fill="#fff" stroke="#a33447" stroke-width="1.1"/>
<circle cx="333" cy="536.6" r="1.8" fill="#fff" stroke="#a33447" stroke-width="1.1"/>
<circle cx="353.5" cy="536.6" r="1.8" fill="#fff" stroke="#a33447" stroke-width="1.1"/>
<circle cx="374" cy="536.2" r="1.8" fill="#fff" stroke="#a33447" stroke-width="1.1"/>
<circle cx="394.5" cy="533.5" r="1.8" fill="#fff" stroke="#a33447" stroke-width="1.1"/>
<circle cx="415" cy="534.4" r="1.8" fill="#fff" stroke="#a33447" stroke-width="1.1"/>
<circle cx="435.5" cy="536.7" r="1.8" fill="#fff" stroke="#a33447" stroke-width="1.1"/>
<circle cx="456" cy="533.1" r="1.8" fill="#fff" stroke="#a33447" stroke-width="1.1"/>
<circle cx="476.5" cy="535" r="1.8" fill="#fff" stroke="#a33447" stroke-width="1.1"/>
<line x1="312.5" y1="531.9" x2="312.5" y2="544.9" stroke="#1c1c1c" stroke-width="0.9" />
<line x1="311.1" y1="531.9" x2="313.9" y2="531.9" stroke="#1c1c1c" stroke-width="0.9" />
<line x1="311.1" y1="544.9" x2="313.9" y2="544.9" stroke="#1c1c1c" stroke-width="0.9" />
<line x1="333" y1="531.9" x2="333" y2="540.9" stroke="#1c1c1c" stroke-width="0.9" />
<line x1="331.6" y1="531.9" x2="334.4" y2="531.9" stroke="#1c1c1c" stroke-width="0.9" />
<line x1="331.6" y1="540.9" x2="334.4" y2="540.9" stroke="#1c1c1c" stroke-width="0.9" />
<line x1="353.5" y1="531.9" x2="353.5" y2="542" stroke="#1c1c1c" stroke-width="0.9" />
<line x1="352.1" y1="531.9" x2="354.9" y2="531.9" stroke="#1c1c1c" stroke-width="0.9" />
<line x1="352.1" y1="542" x2="354.9" y2="542" stroke="#1c1c1c" stroke-width="0.9" />
<line x1="374" y1="529.8" x2="374" y2="542.3" stroke="#1c1c1c" stroke-width="0.9" />
<line x1="372.6" y1="529.8" x2="375.4" y2="529.8" stroke="#1c1c1c" stroke-width="0.9" />
<line x1="372.6" y1="542.3" x2="375.4" y2="542.3" stroke="#1c1c1c" stroke-width="0.9" />
<line x1="394.5" y1="526.7" x2="394.5" y2="540" stroke="#1c1c1c" stroke-width="0.9" />
<line x1="393.1" y1="526.7" x2="395.9" y2="526.7" stroke="#1c1c1c" stroke-width="0.9" />
<line x1="393.1" y1="540" x2="395.9" y2="540" stroke="#1c1c1c" stroke-width="0.9" />
<line x1="415" y1="531.5" x2="415" y2="537.3" stroke="#1c1c1c" stroke-width="0.9" />
<line x1="413.6" y1="531.5" x2="416.4" y2="531.5" stroke="#1c1c1c" stroke-width="0.9" />
<line x1="413.6" y1="537.3" x2="416.4" y2="537.3" stroke="#1c1c1c" stroke-width="0.9" />
<line x1="435.5" y1="533.8" x2="435.5" y2="539.2" stroke="#1c1c1c" stroke-width="0.9" />
<line x1="434.1" y1="533.8" x2="436.9" y2="533.8" stroke="#1c1c1c" stroke-width="0.9" />
<line x1="434.1" y1="539.2" x2="436.9" y2="539.2" stroke="#1c1c1c" stroke-width="0.9" />
<line x1="456" y1="530.6" x2="456" y2="535.8" stroke="#1c1c1c" stroke-width="0.9" />
<line x1="454.6" y1="530.6" x2="457.4" y2="530.6" stroke="#1c1c1c" stroke-width="0.9" />
<line x1="454.6" y1="535.8" x2="457.4" y2="535.8" stroke="#1c1c1c" stroke-width="0.9" />
<line x1="476.5" y1="531.9" x2="476.5" y2="538.3" stroke="#1c1c1c" stroke-width="0.9" />
<line x1="475.1" y1="531.9" x2="477.9" y2="531.9" stroke="#1c1c1c" stroke-width="0.9" />
<line x1="475.1" y1="538.3" x2="477.9" y2="538.3" stroke="#1c1c1c" stroke-width="0.9" />
<polyline points="312.5,540.2 333,608.3 353.5,558.7 374,545.4 394.5,543.5 415,544 435.5,543.5 456,540.2 476.5,543.1" stroke="#4a6189" stroke-width="1.5" fill="none" stroke-linejoin="round" />
<circle cx="312.5" cy="540.2" r="2.2" fill="#4a6189"/>
<circle cx="333" cy="608.3" r="2.2" fill="#4a6189"/>
<circle cx="353.5" cy="558.7" r="2.2" fill="#4a6189"/>
<circle cx="374" cy="545.4" r="2.2" fill="#4a6189"/>
<circle cx="394.5" cy="543.5" r="2.2" fill="#4a6189"/>
<circle cx="415" cy="544" r="2.2" fill="#4a6189"/>
<circle cx="435.5" cy="543.5" r="2.2" fill="#4a6189"/>
<circle cx="456" cy="540.2" r="2.2" fill="#4a6189"/>
<circle cx="476.5" cy="543.1" r="2.2" fill="#4a6189"/>
<line x1="353.5" y1="552.5" x2="353.5" y2="564.5" stroke="#1c1c1c" stroke-width="0.9" />
<line x1="352.1" y1="552.5" x2="354.9" y2="552.5" stroke="#1c1c1c" stroke-width="0.9" />
<line x1="352.1" y1="564.5" x2="354.9" y2="564.5" stroke="#1c1c1c" stroke-width="0.9" />
<line x1="374" y1="542.3" x2="374" y2="547.5" stroke="#1c1c1c" stroke-width="0.9" />
<line x1="372.6" y1="542.3" x2="375.4" y2="542.3" stroke="#1c1c1c" stroke-width="0.9" />
<line x1="372.6" y1="547.5" x2="375.4" y2="547.5" stroke="#1c1c1c" stroke-width="0.9" />
<line x1="394.5" y1="540.2" x2="394.5" y2="546.9" stroke="#1c1c1c" stroke-width="0.9" />
<line x1="393.1" y1="540.2" x2="395.9" y2="540.2" stroke="#1c1c1c" stroke-width="0.9" />
<line x1="393.1" y1="546.9" x2="395.9" y2="546.9" stroke="#1c1c1c" stroke-width="0.9" />
<line x1="415" y1="540.2" x2="415" y2="547.9" stroke="#1c1c1c" stroke-width="0.9" />
<line x1="413.6" y1="540.2" x2="416.4" y2="540.2" stroke="#1c1c1c" stroke-width="0.9" />
<line x1="413.6" y1="547.9" x2="416.4" y2="547.9" stroke="#1c1c1c" stroke-width="0.9" />
<line x1="435.5" y1="541" x2="435.5" y2="546" stroke="#1c1c1c" stroke-width="0.9" />
<line x1="434.1" y1="541" x2="436.9" y2="541" stroke="#1c1c1c" stroke-width="0.9" />
<line x1="434.1" y1="546" x2="436.9" y2="546" stroke="#1c1c1c" stroke-width="0.9" />
<line x1="456" y1="538" x2="456" y2="542.5" stroke="#1c1c1c" stroke-width="0.9" />
<line x1="454.6" y1="538" x2="457.4" y2="538" stroke="#1c1c1c" stroke-width="0.9" />
<line x1="454.6" y1="542.5" x2="457.4" y2="542.5" stroke="#1c1c1c" stroke-width="0.9" />
<line x1="476.5" y1="540.1" x2="476.5" y2="546.1" stroke="#1c1c1c" stroke-width="0.9" />
<line x1="475.1" y1="540.1" x2="477.9" y2="540.1" stroke="#1c1c1c" stroke-width="0.9" />
<line x1="475.1" y1="546.1" x2="477.9" y2="546.1" stroke="#1c1c1c" stroke-width="0.9" />
<line x1="418.1" y1="580.4" x2="428.8" y2="580.4" stroke="#a33447" stroke-width="1.4" />
<path d="M423.5,578.06 L425.84,580.4 L423.5,582.74 L421.16,580.4 Z" fill="#fff" stroke="#a33447" stroke-width="1"/>
<text x="431.8" y="583" font-size="7.2" text-anchor="start" fill="#1e1e1e" textLength="27.5" lengthAdjust="spacingAndGlyphs" >pF8.FVIII</text>
<line x1="418.1" y1="591.2" x2="428.8" y2="591.2" stroke="#4a6189" stroke-width="1.4" />
<circle cx="423.5" cy="591.2" r="2.2" fill="#4a6189"/>
<text x="431.8" y="593.8" font-size="7.2" text-anchor="start" fill="#1e1e1e" textLength="44" lengthAdjust="spacingAndGlyphs" >pF8.FVIII Tregs</text>
<line x1="418.1" y1="601.2" x2="428.8" y2="601.2" stroke="#6c4a6a" stroke-width="1.4" />
<path d="M421.6,599.6 L425.4,602.8 M421.6,602.8 L425.4,599.6" stroke="#6c4a6a" stroke-width="1.1" fill="none"/>
<text x="431.8" y="603.8" font-size="7.2" text-anchor="start" fill="#1e1e1e" textLength="9.5" lengthAdjust="spacingAndGlyphs" >HA</text>
<text x="475.8" y="591.4" font-size="4.5" text-anchor="start" fill="#1e1e1e" >-</text>
<rect x="0" y="0" width="520" height="1.0" fill="#111"/>
<rect x="0" y="642.9" width="520" height="1.1" fill="#111"/>
<rect x="518.9" y="0" width="1.1" height="644" fill="#111"/>
<rect x="0" y="0" width="1.4" height="644" fill="#454545"/>
<rect x="1.4" y="0" width="0.7" height="644" fill="#999"/>
</svg></body></html>
